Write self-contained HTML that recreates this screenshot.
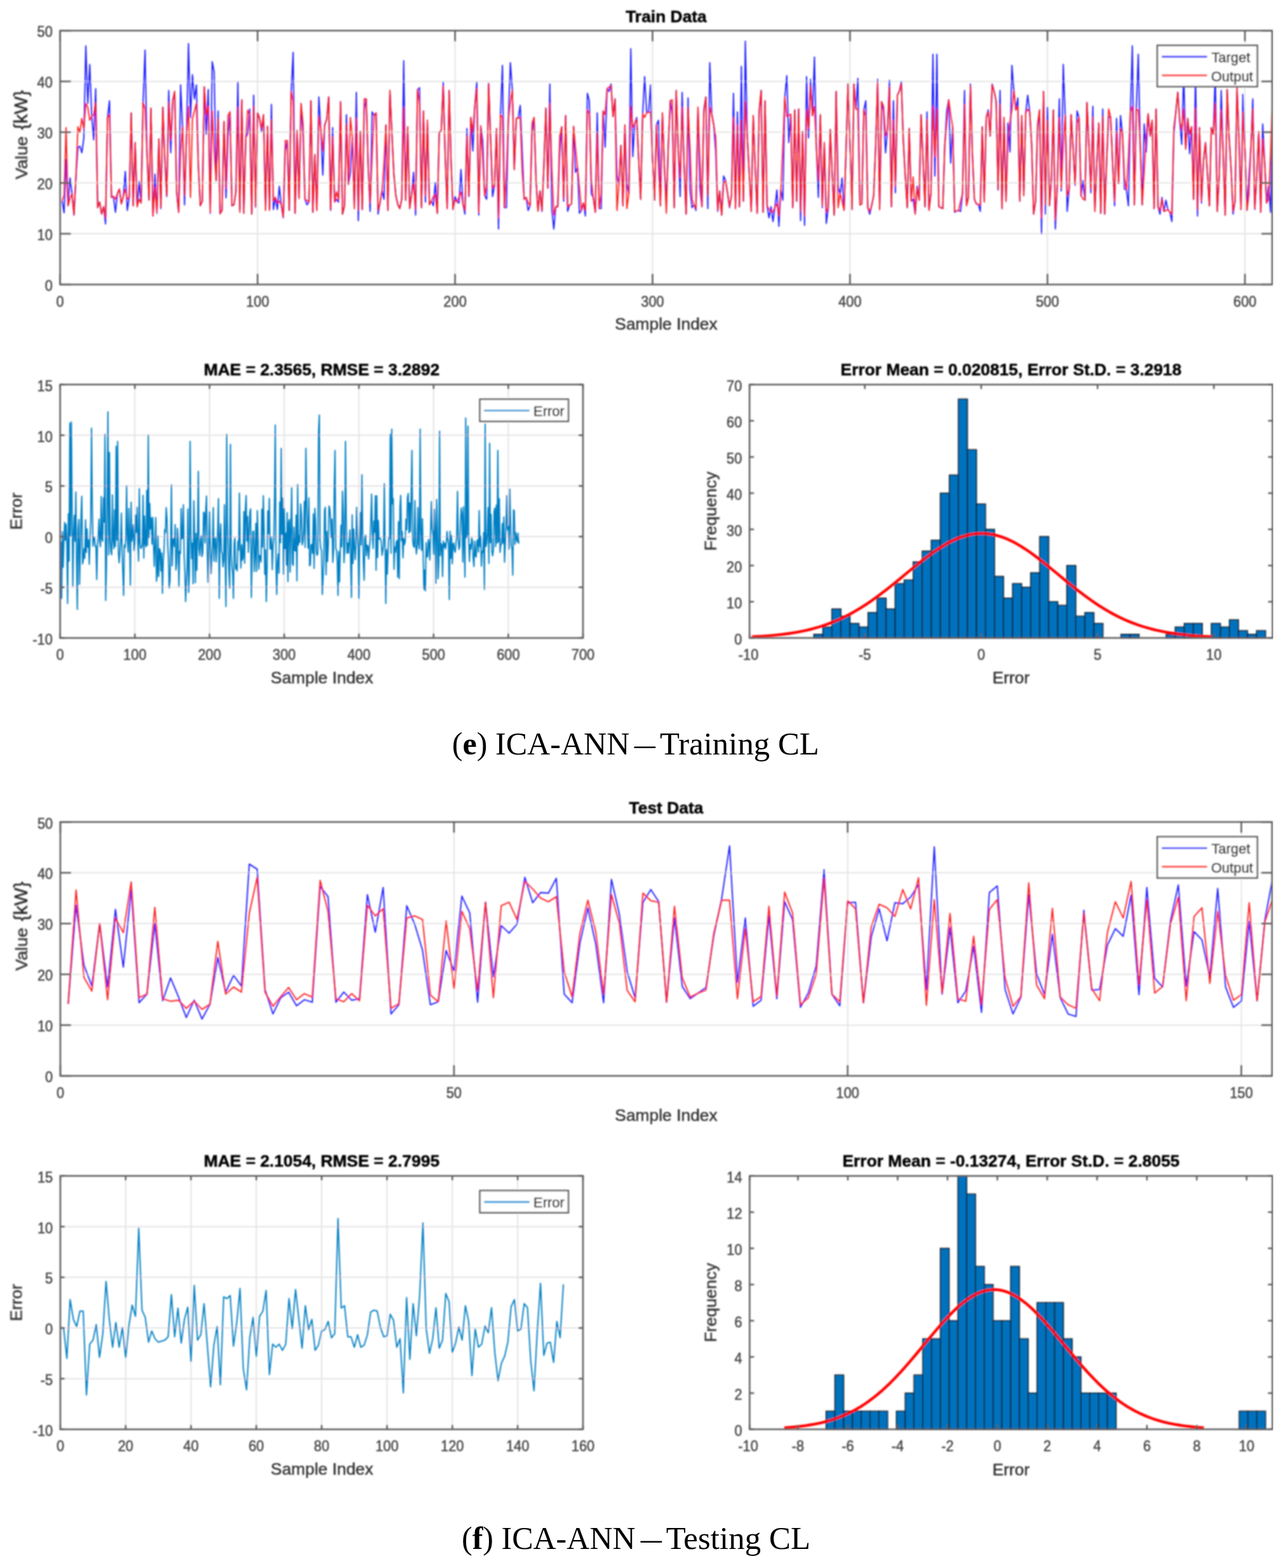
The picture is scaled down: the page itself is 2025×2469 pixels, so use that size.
<!DOCTYPE html>
<html><head><meta charset="utf-8"><title>ICA-ANN Training and Testing CL</title>
<style>html,body{margin:0;padding:0;background:#fff;}svg{display:block;}</style>
</head><body>
<svg width="2025" height="2469" viewBox="0 0 2025 2469">
<rect width="100%" height="100%" fill="#fff"/>
<defs><filter id="soft" x="0" y="0" width="100%" height="100%"><feGaussianBlur stdDeviation="0.8"/></filter></defs>
<g filter="url(#soft)">
<line x1="405.63" y1="48.2" x2="405.63" y2="448" stroke="#e4e4e4" stroke-width="2"/>
<line x1="716.56" y1="48.2" x2="716.56" y2="448" stroke="#e4e4e4" stroke-width="2"/>
<line x1="1027.5" y1="48.2" x2="1027.5" y2="448" stroke="#e4e4e4" stroke-width="2"/>
<line x1="1338.43" y1="48.2" x2="1338.43" y2="448" stroke="#e4e4e4" stroke-width="2"/>
<line x1="1649.36" y1="48.2" x2="1649.36" y2="448" stroke="#e4e4e4" stroke-width="2"/>
<line x1="1960.29" y1="48.2" x2="1960.29" y2="448" stroke="#e4e4e4" stroke-width="2"/>
<line x1="94.7" y1="368.04" x2="2003.2" y2="368.04" stroke="#e4e4e4" stroke-width="2"/>
<line x1="94.7" y1="288.08" x2="2003.2" y2="288.08" stroke="#e4e4e4" stroke-width="2"/>
<line x1="94.7" y1="208.12" x2="2003.2" y2="208.12" stroke="#e4e4e4" stroke-width="2"/>
<line x1="94.7" y1="128.16" x2="2003.2" y2="128.16" stroke="#e4e4e4" stroke-width="2"/>
<g clip-path="url(#clipAtrain)">
<polyline points="97.81,316.28 100.92,334.97 104.03,250.83 107.14,324 110.25,280.1 113.36,304.97 116.47,338.63 119.57,278.7 122.68,231.8 125.79,230.34 128.9,240.58 132.01,217.17 135.12,72.29 138.23,163.02 141.34,101.56 144.45,183.28 147.56,220.1 150.67,139.61 153.78,326.92 156.89,318.14 160,337.17 163.11,325.46 166.21,352.53 169.32,184.97 172.43,158.63 175.54,310.83 178.65,309.36 181.76,334.24 184.87,304.86 187.98,297.66 191.09,321.07 194.2,309.35 197.31,269.85 200.42,331.31 203.53,310.83 206.64,177.66 209.74,324 212.85,224.49 215.96,325.46 219.07,285.95 222.18,319.61 225.29,161.56 228.4,78.88 231.51,241.96 234.62,313.75 237.73,170.34 240.84,340.09 243.95,274.24 247.06,335.7 250.17,218.63 253.28,328.39 256.38,168.88 259.49,250.51 262.6,309.36 265.71,142.54 268.82,240.58 271.93,158.63 275.04,144 278.15,302.05 281.26,334.24 284.37,133.76 287.48,199.61 290.59,322.53 293.7,212.76 296.81,68.63 299.92,184.97 303.02,117.66 306.13,155.71 309.24,133.76 312.35,261.65 315.46,324 318.57,316.68 321.68,136.68 324.79,211.32 327.9,141.07 331.01,335.7 334.12,97.17 337.23,113.27 340.34,284.49 343.45,174.73 346.55,336.44 349.66,331.31 352.77,191.56 355.88,311.56 358.99,215.71 362.1,176.19 365.21,324 368.32,322.53 371.43,302.05 374.54,129.37 377.65,329.85 380.76,157.17 383.87,335.7 386.98,217.17 390.09,209.85 393.19,171.8 396.3,337.17 399.41,149.85 402.52,326.19 405.63,177.66 408.74,186.44 411.85,206.93 414.96,180.58 418.07,329.85 421.18,198.88 424.29,329.85 427.4,164.49 430.51,329.85 433.62,310.83 436.73,329.85 439.83,293.27 442.94,322.53 446.05,343.02 449.16,237.66 452.27,221.56 455.38,331.31 458.49,144 461.6,82.54 464.71,335.7 467.82,205.46 470.93,312.29 474.04,163.02 477.15,214.24 480.26,313.75 483.36,322.53 486.47,318.14 489.58,158.63 492.69,334.24 495.8,243.51 498.91,331.31 502.02,152.78 505.13,202.54 508.24,275.71 511.35,196.68 514.46,187.9 517.57,152.78 520.68,331.31 523.79,201.07 526.9,318.14 530,313.75 533.11,318.14 536.22,160.1 539.33,337.17 542.44,324 545.55,180.58 548.66,290.34 551.77,271.32 554.88,217.17 557.99,328.39 561.1,145.46 564.21,347.41 567.32,206.93 570.43,329.85 573.54,173.27 576.64,155.71 579.75,260.83 582.86,332.78 585.97,176.19 589.08,182.05 592.19,177.66 595.3,337.17 598.41,319.1 601.52,300.58 604.63,313.75 607.74,196.68 610.85,331.31 613.96,142.54 617.07,209.54 620.17,273.39 623.28,307.9 626.39,322.01 629.5,328.39 632.61,313.75 635.72,95.71 638.83,315.22 641.94,199.61 645.05,328.39 648.16,306.2 651.27,271.32 654.38,338.63 657.49,141.07 660.6,138.15 663.71,326.92 666.81,174.73 669.92,318.14 673.03,189.37 676.14,321.07 679.25,316.68 682.36,324 685.47,287.41 688.58,335.7 691.69,208.39 694.8,205.46 697.91,129.37 701.02,245.42 704.13,328.39 707.24,142.54 710.35,256.71 713.45,329.85 716.56,309.36 719.67,318.14 722.78,319.61 725.89,266.93 729,321.66 732.11,337.17 735.22,202.54 738.33,309.36 741.44,184.97 744.55,237.66 747.66,166.74 750.77,129.37 753.88,338.63 756.98,198.15 760.09,221.56 763.2,307.9 766.31,313.75 769.42,130.83 772.53,220.11 775.64,309.36 778.75,291.8 781.86,202.54 784.97,360.58 788.08,180.58 791.19,103.02 794.3,326.92 797.41,326.92 800.52,187.9 803.62,98.63 806.73,141.07 809.84,266.81 812.95,186.44 816.06,185.75 819.17,165.95 822.28,237.66 825.39,313.75 828.5,310.83 831.61,331.31 834.72,324 837.83,208.39 840.94,184.97 844.05,283.59 847.16,331.31 850.26,300.58 853.37,332.78 856.48,259.96 859.59,170.34 862.7,296.19 865.81,132.29 868.92,329.85 872.03,360.58 875.14,325.46 878.25,325.46 881.36,239.12 884.47,199.61 887.58,316.68 890.69,182.05 893.79,332.78 896.9,323.03 900.01,321.07 903.12,198.88 906.23,271.32 909.34,264.09 912.45,335.7 915.56,331.31 918.67,319.61 921.78,340.09 924.89,146.93 928,158.63 931.11,304.97 934.22,311.14 937.33,334.24 940.43,177.66 943.54,328.39 946.65,328.39 949.76,174.73 952.87,231.8 955.98,139.61 959.09,144 962.2,132.29 965.31,183.51 968.42,155.71 971.53,275.71 974.64,290.34 977.75,228.88 980.86,324 983.97,196.68 987.07,290.34 990.18,304.97 993.29,76.68 996.4,246.44 999.51,194.43 1002.62,184.97 1005.73,251.25 1008.84,313.75 1011.95,179.12 1015.06,120.59 1018.17,176.19 1021.28,176.88 1024.39,133.76 1027.5,250.25 1030.61,315.22 1033.71,196.68 1036.82,189.37 1039.93,324 1043.04,177.66 1046.15,260.99 1049.26,319.61 1052.37,228.46 1055.48,158.63 1058.59,180.58 1061.7,326.92 1064.81,142.54 1067.92,233.65 1071.03,309.36 1074.14,145.46 1077.24,260.98 1080.35,337.17 1083.46,154.24 1086.57,299.12 1089.68,326.92 1092.79,322.57 1095.9,331.31 1099.01,168.88 1102.12,296.19 1105.23,325.46 1108.34,171.8 1111.45,152.78 1114.56,328.39 1117.67,98.63 1120.78,179.96 1123.88,196.54 1126.99,239.12 1130.1,332.78 1133.21,300.58 1136.32,338.63 1139.43,277.17 1142.54,284.49 1145.65,304.05 1148.76,326.92 1151.87,307.9 1154.98,146.93 1158.09,328.39 1161.2,176.19 1164.31,325.46 1167.42,104.49 1170.52,316.68 1173.63,64.98 1176.74,217.11 1179.85,273.52 1182.96,332.78 1186.07,182.05 1189.18,264.28 1192.29,335.7 1195.4,179.12 1198.51,142.54 1201.62,334.24 1204.73,158.63 1207.84,324 1210.95,343.02 1214.05,325.46 1217.16,348.88 1220.27,325.82 1223.38,299.12 1226.49,356.19 1229.6,299.12 1232.71,315.22 1235.82,152.78 1238.93,119.12 1242.04,224.49 1245.15,179.85 1248.26,326.92 1251.37,173.27 1254.48,316.68 1257.59,171.8 1260.69,347.41 1263.8,206.93 1266.91,354.73 1270.02,120.59 1273.13,217.17 1276.24,124.98 1279.35,182.05 1282.46,89.85 1285.57,233.44 1288.68,310.83 1291.79,180.58 1294.9,326.92 1298.01,224.49 1301.12,351.8 1304.23,326.92 1307.33,204 1310.44,275.71 1313.55,338.63 1316.66,144 1319.77,294.73 1322.88,304.97 1325.99,280.1 1329.1,331.31 1332.21,236.35 1335.32,132.29 1338.43,226.94 1341.54,329.85 1344.65,132.29 1347.76,171.8 1350.86,123.51 1353.97,322.53 1357.08,321.07 1360.19,173.27 1363.3,158.63 1366.41,326.92 1369.52,337.17 1372.63,323.35 1375.74,307.9 1378.85,229.2 1381.96,124.98 1385.07,329.85 1388.18,160.1 1391.29,176.19 1394.4,240.58 1397.5,204 1400.61,126.44 1403.72,325.46 1406.83,158.63 1409.94,303.51 1413.05,149.85 1416.16,143.6 1419.27,128.63 1422.38,221.56 1425.49,277.35 1428.6,326.92 1431.71,202.54 1434.82,316.68 1437.93,313.75 1441.04,337.17 1444.14,293.27 1447.25,315.22 1450.36,180.58 1453.47,252.24 1456.58,325.46 1459.69,176.19 1462.8,329.85 1465.91,304.97 1469.02,85.46 1472.13,277.17 1475.24,85.46 1478.35,325.46 1481.46,326.99 1484.57,328.39 1487.67,228.88 1490.78,174.73 1493.89,157.17 1497,256.68 1500.11,199.61 1503.22,334.24 1506.33,332.1 1509.44,331.31 1512.55,332.78 1515.66,304.97 1518.77,142.54 1521.88,322.53 1524.99,310.83 1528.1,132.29 1531.21,243.67 1534.31,313.75 1537.42,321.07 1540.53,321.81 1543.64,332.78 1546.75,199.61 1549.86,313.75 1552.97,184.97 1556.08,173.27 1559.19,214.24 1562.3,132.29 1565.41,144 1568.52,158.63 1571.63,299.12 1574.74,142.54 1577.85,328.39 1580.95,184.97 1584.06,316.68 1587.17,193.76 1590.28,239.12 1593.39,103.02 1596.5,142.54 1599.61,173.27 1602.72,154.24 1605.83,316.68 1608.94,182.05 1612.05,307.9 1615.16,177.66 1618.27,149.85 1621.38,176.19 1624.48,227.33 1627.59,337.17 1630.7,316.68 1633.81,202.54 1636.92,173.27 1640.03,367.9 1643.14,144 1646.25,337.17 1649.36,168.88 1652.47,324 1655.58,284.49 1658.69,173.27 1661.8,360.58 1664.91,290.34 1668.02,155.71 1671.12,300.58 1674.23,101.56 1677.34,182.05 1680.45,332.78 1683.56,297.66 1686.67,180.58 1689.78,234.16 1692.89,291.8 1696,174.73 1699.11,184.97 1702.22,307.9 1705.33,284.49 1708.44,315.22 1711.55,161.56 1714.66,227.58 1717.76,303.51 1720.87,167.41 1723.98,332.78 1727.09,256.58 1730.2,193.76 1733.31,335.7 1736.42,171.8 1739.53,337.17 1742.64,252.26 1745.75,183.51 1748.86,184.97 1751.97,256.81 1755.08,324 1758.19,186.44 1761.29,288.88 1764.4,182.05 1767.51,209.85 1770.62,297.66 1773.73,299.12 1776.84,324 1779.95,176.19 1783.06,72.29 1786.17,322.53 1789.28,171.8 1792.39,85.46 1795.5,228.97 1798.61,322.53 1801.72,195.22 1804.83,239.12 1807.93,179.12 1811.04,214.24 1814.15,189.37 1817.26,328.39 1820.37,171.8 1823.48,325.46 1826.59,337.17 1829.7,310.83 1832.81,332.78 1835.92,315.22 1839.03,329.85 1842.14,334.02 1845.25,348.88 1848.36,211.32 1851.47,177.18 1854.57,145.46 1857.68,190.83 1860.79,227.41 1863.9,114.73 1867.01,234.73 1870.12,186.44 1873.23,242.05 1876.34,199.61 1879.45,313.75 1882.56,114.73 1885.67,340.09 1888.78,201.07 1891.89,319.61 1895,253.75 1898.11,224.49 1901.21,272.73 1904.32,324 1907.43,201.07 1910.54,211.32 1913.65,114.73 1916.76,332.78 1919.87,275.4 1922.98,142.54 1926.09,242.97 1929.2,338.63 1932.31,141.07 1935.42,217.17 1938.53,265.74 1941.64,337.17 1944.74,316.68 1947.85,138.15 1950.96,218.44 1954.07,329.85 1957.18,148.39 1960.29,236.16 1963.4,331.31 1966.51,280.1 1969.62,234.8 1972.73,155.71 1975.84,329.85 1978.95,276.23 1982.06,206.93 1985.17,334.24 1988.28,195.22 1991.38,255.64 1994.49,319.61 1997.6,293.27 2000.71,334.24 2003.82,144" fill="none" stroke="#1a1aff" stroke-width="1.9" stroke-linejoin="round" stroke-opacity="1.0"/>
<polyline points="97.81,316.28 100.92,307.9 104.03,201.07 107.14,324 110.25,312.52 113.36,304.97 116.47,337.9 119.57,278.7 122.68,199.61 125.79,208.39 128.9,186.44 132.01,202.54 135.12,163.02 138.23,168.88 141.34,189.37 144.45,183.28 147.56,180.58 150.67,161.56 153.78,326.92 156.89,318.14 160,337.17 163.11,325.46 166.21,343.02 169.32,184.97 172.43,180.58 175.54,310.83 178.65,309.36 181.76,313.75 184.87,304.86 187.98,297.66 191.09,321.07 194.2,309.35 197.31,297.66 200.42,313.75 203.53,310.83 206.64,177.66 209.74,324 212.85,224.49 215.96,325.46 219.07,313.75 222.18,319.61 225.29,161.56 228.4,170.34 231.51,241.96 234.62,315.22 237.73,170.34 240.84,340.09 243.95,294.73 247.06,334.24 250.17,218.63 253.28,326.92 256.38,168.88 259.49,250.51 262.6,307.9 265.71,161.56 268.82,220.1 271.93,158.63 275.04,144 278.15,302.05 281.26,334.24 284.37,238.72 287.48,199.61 290.59,307.9 293.7,212.76 296.81,167.41 299.92,310.83 303.02,186.44 306.13,175.04 309.24,163.02 312.35,261.65 315.46,324 318.57,316.68 321.68,136.68 324.79,180.58 327.9,167.41 331.01,334.24 334.12,174.73 337.23,236.99 340.34,284.49 343.45,186.44 346.55,336.44 349.66,331.31 352.77,191.56 355.88,296.19 358.99,182.05 362.1,176.19 365.21,324 368.32,322.53 371.43,302.05 374.54,168.88 377.65,334.24 380.76,157.17 383.87,335.7 386.98,217.17 390.09,173.27 393.19,180.58 396.3,337.17 399.41,167.41 402.52,325.46 405.63,177.66 408.74,186.44 411.85,202.54 414.96,180.58 418.07,331.31 421.18,198.88 424.29,331.31 427.4,188.63 430.51,316.68 433.62,310.83 436.73,319.61 439.83,316.68 442.94,322.53 446.05,341.56 449.16,221.56 452.27,221.56 455.38,331.31 458.49,144 461.6,158.63 464.71,335.7 467.82,205.46 470.93,312.29 474.04,163.02 477.15,193.76 480.26,313.75 483.36,315.7 486.47,318.14 489.58,158.63 492.69,334.24 495.8,243.51 498.91,331.31 502.02,183.51 505.13,202.54 508.24,237.66 511.35,196.68 514.46,187.9 517.57,152.78 520.68,329.85 523.79,215.71 526.9,318.14 530,302.05 533.11,315.22 536.22,160.1 539.33,337.17 542.44,324 545.55,195.22 548.66,290.34 551.77,184.97 554.88,217.17 557.99,328.39 561.1,186.44 564.21,331.31 567.32,206.93 570.43,329.85 573.54,155.71 576.64,155.71 579.75,260.83 582.86,319.61 585.97,244.77 589.08,182.05 592.19,177.66 595.3,331.31 598.41,319.1 601.52,300.58 604.63,257.84 607.74,196.68 610.85,331.31 613.96,142.54 617.07,209.54 620.17,273.39 623.28,307.9 626.39,322.01 629.5,328.39 632.61,313.75 635.72,168.88 638.83,315.22 641.94,199.61 645.05,328.39 648.16,306.2 651.27,288.88 654.38,329.85 657.49,141.07 660.6,161.56 663.71,326.92 666.81,174.73 669.92,307.9 673.03,189.37 676.14,322.53 679.25,316.68 682.36,309.87 685.47,306.44 688.58,335.7 691.69,208.39 694.8,205.46 697.91,135.22 701.02,245.42 704.13,328.39 707.24,142.54 710.35,256.71 713.45,329.85 716.56,315.22 719.67,318.14 722.78,310.46 725.89,302.05 729,321.66 732.11,331.31 735.22,214.24 738.33,307.9 741.44,184.97 744.55,208.39 747.66,166.74 750.77,139.61 753.88,334.24 756.98,198.15 760.09,249.97 763.2,307.9 766.31,293.27 769.42,132.29 772.53,220.11 775.64,296.19 778.75,291.8 781.86,202.54 784.97,343.02 788.08,180.58 791.19,184.97 794.3,326.92 797.41,271.3 800.52,187.9 803.62,160.06 806.73,142.54 809.84,266.81 812.95,186.44 816.06,185.75 819.17,184.97 822.28,269.96 825.39,313.75 828.5,310.83 831.61,319.14 834.72,324 837.83,193.76 840.94,184.97 844.05,283.59 847.16,332.78 850.26,300.58 853.37,331.31 856.48,259.96 859.59,170.34 862.7,296.19 865.81,163.02 868.92,265.07 872.03,338.63 875.14,325.46 878.25,325.46 881.36,214.24 884.47,199.61 887.58,312.29 890.69,182.05 893.79,325.46 896.9,323.03 900.01,321.07 903.12,198.88 906.23,232.84 909.34,264.09 912.45,295.34 915.56,331.31 918.67,319.61 921.78,331.31 924.89,173.27 928,179.12 931.11,283.02 934.22,311.14 937.33,334.24 940.43,208.39 943.54,328.39 946.65,304.97 949.76,174.73 952.87,180.58 955.98,139.61 959.09,136.96 962.2,135.22 965.31,183.51 968.42,155.71 971.53,331.31 974.64,290.34 977.75,228.88 980.86,324 983.97,196.68 987.07,328.39 990.18,304.97 993.29,167.41 996.4,201.07 999.51,194.43 1002.62,187.9 1005.73,251.25 1008.84,313.75 1011.95,179.12 1015.06,184.97 1018.17,177.66 1021.28,176.88 1024.39,176.19 1027.5,250.25 1030.61,315.22 1033.71,196.68 1036.82,260.41 1039.93,324 1043.04,177.66 1046.15,260.99 1049.26,335.7 1052.37,228.46 1055.48,158.63 1058.59,157.17 1061.7,326.92 1064.81,142.54 1067.92,233.65 1071.03,280.1 1074.14,168.88 1077.24,260.98 1080.35,337.17 1083.46,168.88 1086.57,235.2 1089.68,313.75 1092.79,322.57 1095.9,328.39 1099.01,168.88 1102.12,254.15 1105.23,325.46 1108.34,176.19 1111.45,152.78 1114.56,307.9 1117.67,168.88 1120.78,179.96 1123.88,196.54 1126.99,215.71 1130.1,331.31 1133.21,300.58 1136.32,338.63 1139.43,288.88 1142.54,284.49 1145.65,304.05 1148.76,325.46 1151.87,307.9 1154.98,184.97 1158.09,328.39 1161.2,196.68 1164.31,325.46 1167.42,189.37 1170.52,316.68 1173.63,160.1 1176.74,217.11 1179.85,273.52 1182.96,332.78 1186.07,182.05 1189.18,264.28 1192.29,335.7 1195.4,173.27 1198.51,142.54 1201.62,334.24 1204.73,158.63 1207.84,324 1210.95,329.85 1214.05,332.52 1217.16,334.24 1220.27,325.82 1223.38,321.07 1226.49,340.09 1229.6,299.12 1232.71,230.64 1235.82,152.78 1238.93,183.51 1242.04,181.46 1245.15,179.85 1248.26,326.92 1251.37,173.27 1254.48,316.68 1257.59,171.8 1260.69,332.78 1263.8,206.93 1266.91,340.09 1270.02,173.27 1273.13,202.54 1276.24,135.22 1279.35,182.05 1282.46,167.41 1285.57,233.44 1288.68,284.49 1291.79,180.58 1294.9,324 1298.01,224.49 1301.12,334.24 1304.23,326.92 1307.33,204 1310.44,275.71 1313.55,338.63 1316.66,144 1319.77,326.92 1322.88,304.97 1325.99,316.68 1329.1,331.31 1332.21,236.35 1335.32,132.29 1338.43,226.94 1341.54,329.85 1344.65,132.29 1347.76,171.8 1350.86,171.8 1353.97,322.53 1357.08,321.07 1360.19,173.27 1363.3,183.51 1366.41,326.92 1369.52,332.78 1372.63,323.35 1375.74,307.9 1378.85,229.2 1381.96,129.37 1385.07,329.85 1388.18,160.1 1391.29,167.41 1394.4,214.24 1397.5,204 1400.61,136.68 1403.72,325.46 1406.83,189.37 1409.94,293.27 1413.05,149.85 1416.16,143.6 1419.27,132.29 1422.38,221.56 1425.49,277.35 1428.6,326.92 1431.71,202.54 1434.82,316.68 1437.93,278.63 1441.04,337.17 1444.14,296.19 1447.25,315.22 1450.36,180.58 1453.47,252.24 1456.58,325.46 1459.69,187.9 1462.8,331.31 1465.91,304.97 1469.02,167.41 1472.13,246.44 1475.24,171.8 1478.35,325.46 1481.46,326.99 1484.57,328.39 1487.67,228.88 1490.78,193.58 1493.89,157.17 1497,180.96 1500.11,199.61 1503.22,332.78 1506.33,332.1 1509.44,331.31 1512.55,317.44 1515.66,304.97 1518.77,164.49 1521.88,324 1524.99,310.83 1528.1,135.22 1531.21,243.67 1534.31,313.75 1537.42,321.07 1540.53,321.81 1543.64,322.53 1546.75,199.61 1549.86,318.14 1552.97,184.97 1556.08,176.19 1559.19,214.24 1562.3,133.76 1565.41,144 1568.52,158.63 1571.63,297.66 1574.74,164.49 1577.85,328.39 1580.95,184.97 1584.06,316.68 1587.17,220.1 1590.28,192.29 1593.39,172.74 1596.5,142.54 1599.61,173.27 1602.72,167.41 1605.83,316.68 1608.94,182.05 1612.05,307.9 1615.16,177.66 1618.27,171.8 1621.38,176.19 1624.48,227.33 1627.59,337.17 1630.7,316.68 1633.81,195.22 1636.92,173.27 1640.03,343.02 1643.14,144 1646.25,322.53 1649.36,189.37 1652.47,324 1655.58,280.1 1658.69,173.27 1661.8,345.95 1664.91,290.34 1668.02,184.97 1671.12,296.19 1674.23,228.02 1677.34,182.05 1680.45,307.9 1683.56,297.66 1686.67,180.58 1689.78,234.16 1692.89,290.34 1696,193.76 1699.11,184.97 1702.22,307.9 1705.33,313.07 1708.44,315.22 1711.55,161.56 1714.66,227.58 1717.76,297.66 1720.87,184.97 1723.98,332.78 1727.09,256.58 1730.2,193.76 1733.31,335.7 1736.42,183.51 1739.53,337.17 1742.64,252.26 1745.75,171.8 1748.86,184.97 1751.97,256.81 1755.08,316.68 1758.19,206.93 1761.29,288.88 1764.4,202.54 1767.51,209.85 1770.62,279.77 1773.73,299.12 1776.84,247.87 1779.95,176.19 1783.06,167.41 1786.17,322.53 1789.28,171.8 1792.39,173.27 1795.5,228.97 1798.61,322.53 1801.72,269.43 1804.83,215.71 1807.93,179.12 1811.04,214.24 1814.15,189.37 1817.26,328.39 1820.37,171.8 1823.48,325.46 1826.59,331.31 1829.7,313.75 1832.81,332.78 1835.92,331.49 1839.03,329.85 1842.14,334.02 1845.25,337.17 1848.36,201.07 1851.47,177.18 1854.57,145.46 1857.68,190.83 1860.79,204 1863.9,171.8 1867.01,234.73 1870.12,186.44 1873.23,211.32 1876.34,199.61 1879.45,313.75 1882.56,170.34 1885.67,329.85 1888.78,201.07 1891.89,316.68 1895,253.75 1898.11,224.49 1901.21,272.73 1904.32,324 1907.43,201.07 1910.54,211.32 1913.65,163.02 1916.76,332.78 1919.87,275.4 1922.98,173.27 1926.09,242.97 1929.2,338.63 1932.31,141.07 1935.42,217.17 1938.53,265.74 1941.64,332.78 1944.74,316.68 1947.85,138.15 1950.96,218.44 1954.07,329.85 1957.18,176.19 1960.29,236.16 1963.4,331.31 1966.51,307.9 1969.62,234.8 1972.73,171.8 1975.84,328.39 1978.95,276.23 1982.06,206.93 1985.17,334.24 1988.28,218.63 1991.38,255.64 1994.49,319.61 1997.6,313.75 2000.71,243.81 2003.82,144" fill="none" stroke="#ff1a1a" stroke-width="1.9" stroke-linejoin="round" stroke-opacity="1.0"/>
</g>
<clipPath id="clipAtrain"><rect x="94.7" y="48.2" width="1908.5" height="399.8"/></clipPath>
<line x1="94.7" y1="448" x2="94.7" y2="431" stroke="#5c5c5c" stroke-width="2.5"/>
<line x1="94.7" y1="48.2" x2="94.7" y2="65.2" stroke="#5c5c5c" stroke-width="2.5"/>
<line x1="405.63" y1="448" x2="405.63" y2="431" stroke="#5c5c5c" stroke-width="2.5"/>
<line x1="405.63" y1="48.2" x2="405.63" y2="65.2" stroke="#5c5c5c" stroke-width="2.5"/>
<line x1="716.56" y1="448" x2="716.56" y2="431" stroke="#5c5c5c" stroke-width="2.5"/>
<line x1="716.56" y1="48.2" x2="716.56" y2="65.2" stroke="#5c5c5c" stroke-width="2.5"/>
<line x1="1027.5" y1="448" x2="1027.5" y2="431" stroke="#5c5c5c" stroke-width="2.5"/>
<line x1="1027.5" y1="48.2" x2="1027.5" y2="65.2" stroke="#5c5c5c" stroke-width="2.5"/>
<line x1="1338.43" y1="448" x2="1338.43" y2="431" stroke="#5c5c5c" stroke-width="2.5"/>
<line x1="1338.43" y1="48.2" x2="1338.43" y2="65.2" stroke="#5c5c5c" stroke-width="2.5"/>
<line x1="1649.36" y1="448" x2="1649.36" y2="431" stroke="#5c5c5c" stroke-width="2.5"/>
<line x1="1649.36" y1="48.2" x2="1649.36" y2="65.2" stroke="#5c5c5c" stroke-width="2.5"/>
<line x1="1960.29" y1="448" x2="1960.29" y2="431" stroke="#5c5c5c" stroke-width="2.5"/>
<line x1="1960.29" y1="48.2" x2="1960.29" y2="65.2" stroke="#5c5c5c" stroke-width="2.5"/>
<line x1="94.7" y1="448" x2="111.7" y2="448" stroke="#5c5c5c" stroke-width="2.5"/>
<line x1="2003.2" y1="448" x2="1986.2" y2="448" stroke="#5c5c5c" stroke-width="2.5"/>
<line x1="94.7" y1="368.04" x2="111.7" y2="368.04" stroke="#5c5c5c" stroke-width="2.5"/>
<line x1="2003.2" y1="368.04" x2="1986.2" y2="368.04" stroke="#5c5c5c" stroke-width="2.5"/>
<line x1="94.7" y1="288.08" x2="111.7" y2="288.08" stroke="#5c5c5c" stroke-width="2.5"/>
<line x1="2003.2" y1="288.08" x2="1986.2" y2="288.08" stroke="#5c5c5c" stroke-width="2.5"/>
<line x1="94.7" y1="208.12" x2="111.7" y2="208.12" stroke="#5c5c5c" stroke-width="2.5"/>
<line x1="2003.2" y1="208.12" x2="1986.2" y2="208.12" stroke="#5c5c5c" stroke-width="2.5"/>
<line x1="94.7" y1="128.16" x2="111.7" y2="128.16" stroke="#5c5c5c" stroke-width="2.5"/>
<line x1="2003.2" y1="128.16" x2="1986.2" y2="128.16" stroke="#5c5c5c" stroke-width="2.5"/>
<line x1="94.7" y1="48.2" x2="111.7" y2="48.2" stroke="#5c5c5c" stroke-width="2.5"/>
<line x1="2003.2" y1="48.2" x2="1986.2" y2="48.2" stroke="#5c5c5c" stroke-width="2.5"/>
<rect x="94.7" y="48.2" width="1908.5" height="399.8" fill="none" stroke="#5c5c5c" stroke-width="2.5"/>
<text transform="translate(94.7,482.75) scale(0.9300,1)" font-size="23.5" text-anchor="middle" font-weight="normal" fill="#444" stroke="#444" stroke-width="0.5" font-family="'Liberation Sans', Arial, Helvetica, sans-serif">0</text>
<text transform="translate(405.63,482.75) scale(0.9300,1)" font-size="23.5" text-anchor="middle" font-weight="normal" fill="#444" stroke="#444" stroke-width="0.5" font-family="'Liberation Sans', Arial, Helvetica, sans-serif">100</text>
<text transform="translate(716.56,482.75) scale(0.9300,1)" font-size="23.5" text-anchor="middle" font-weight="normal" fill="#444" stroke="#444" stroke-width="0.5" font-family="'Liberation Sans', Arial, Helvetica, sans-serif">200</text>
<text transform="translate(1027.5,482.75) scale(0.9300,1)" font-size="23.5" text-anchor="middle" font-weight="normal" fill="#444" stroke="#444" stroke-width="0.5" font-family="'Liberation Sans', Arial, Helvetica, sans-serif">300</text>
<text transform="translate(1338.43,482.75) scale(0.9300,1)" font-size="23.5" text-anchor="middle" font-weight="normal" fill="#444" stroke="#444" stroke-width="0.5" font-family="'Liberation Sans', Arial, Helvetica, sans-serif">400</text>
<text transform="translate(1649.36,482.75) scale(0.9300,1)" font-size="23.5" text-anchor="middle" font-weight="normal" fill="#444" stroke="#444" stroke-width="0.5" font-family="'Liberation Sans', Arial, Helvetica, sans-serif">500</text>
<text transform="translate(1960.29,482.75) scale(0.9300,1)" font-size="23.5" text-anchor="middle" font-weight="normal" fill="#444" stroke="#444" stroke-width="0.5" font-family="'Liberation Sans', Arial, Helvetica, sans-serif">600</text>
<text transform="translate(82.9,458.23) scale(0.9300,1)" font-size="23.5" text-anchor="end" font-weight="normal" fill="#444" stroke="#444" stroke-width="0.5" font-family="'Liberation Sans', Arial, Helvetica, sans-serif">0</text>
<text transform="translate(82.9,378.26) scale(0.9300,1)" font-size="23.5" text-anchor="end" font-weight="normal" fill="#444" stroke="#444" stroke-width="0.5" font-family="'Liberation Sans', Arial, Helvetica, sans-serif">10</text>
<text transform="translate(82.9,298.31) scale(0.9300,1)" font-size="23.5" text-anchor="end" font-weight="normal" fill="#444" stroke="#444" stroke-width="0.5" font-family="'Liberation Sans', Arial, Helvetica, sans-serif">20</text>
<text transform="translate(82.9,218.34) scale(0.9300,1)" font-size="23.5" text-anchor="end" font-weight="normal" fill="#444" stroke="#444" stroke-width="0.5" font-family="'Liberation Sans', Arial, Helvetica, sans-serif">30</text>
<text transform="translate(82.9,138.38) scale(0.9300,1)" font-size="23.5" text-anchor="end" font-weight="normal" fill="#444" stroke="#444" stroke-width="0.5" font-family="'Liberation Sans', Arial, Helvetica, sans-serif">40</text>
<text transform="translate(82.9,58.42) scale(0.9300,1)" font-size="23.5" text-anchor="end" font-weight="normal" fill="#444" stroke="#444" stroke-width="0.5" font-family="'Liberation Sans', Arial, Helvetica, sans-serif">50</text>
<rect x="1822.3" y="71.5" width="157.6" height="64.8" fill="#fff" stroke="#5c5c5c" stroke-width="2.5"/>
<line x1="1829.5" y1="89.4" x2="1900.8" y2="89.4" stroke="#4545ff" stroke-width="3.2"/>
<line x1="1829.5" y1="118.6" x2="1900.8" y2="118.6" stroke="#ff4545" stroke-width="3.2"/>
<text transform="translate(1907.5,97.6)" font-size="22" text-anchor="start" font-weight="normal" fill="#222" stroke="#222" stroke-width="0.5" font-family="'Liberation Sans', Arial, Helvetica, sans-serif">Target</text>
<text transform="translate(1907,128.1)" font-size="22" text-anchor="start" font-weight="normal" fill="#222" stroke="#222" stroke-width="0.5" font-family="'Liberation Sans', Arial, Helvetica, sans-serif">Output</text>
<text transform="translate(1049,34.6)" font-size="26.4" text-anchor="middle" font-weight="bold" fill="#000" stroke="#000" stroke-width="0.5" font-family="'Liberation Sans', Arial, Helvetica, sans-serif">Train Data</text>
<text transform="translate(1049,519.2)" font-size="26.4" text-anchor="middle" font-weight="normal" fill="#333" stroke="#333" stroke-width="0.5" font-family="'Liberation Sans', Arial, Helvetica, sans-serif">Sample Index</text>
<text transform="translate(42.9,282.3) rotate(-90) scale(1.033,1)" font-size="26.4" fill="#333" stroke="#333" stroke-width="0.5" font-family="'Liberation Sans', Arial, Helvetica, sans-serif">Value <tspan font-size="28.7" fill="#222" dx="2.5">{kW}</tspan></text>
<line x1="212.31" y1="605.5" x2="212.31" y2="1004.6" stroke="#e4e4e4" stroke-width="2"/>
<line x1="329.93" y1="605.5" x2="329.93" y2="1004.6" stroke="#e4e4e4" stroke-width="2"/>
<line x1="447.54" y1="605.5" x2="447.54" y2="1004.6" stroke="#e4e4e4" stroke-width="2"/>
<line x1="565.16" y1="605.5" x2="565.16" y2="1004.6" stroke="#e4e4e4" stroke-width="2"/>
<line x1="682.77" y1="605.5" x2="682.77" y2="1004.6" stroke="#e4e4e4" stroke-width="2"/>
<line x1="800.39" y1="605.5" x2="800.39" y2="1004.6" stroke="#e4e4e4" stroke-width="2"/>
<line x1="94.7" y1="924.78" x2="918" y2="924.78" stroke="#e4e4e4" stroke-width="2"/>
<line x1="94.7" y1="844.96" x2="918" y2="844.96" stroke="#e4e4e4" stroke-width="2"/>
<line x1="94.7" y1="765.14" x2="918" y2="765.14" stroke="#e4e4e4" stroke-width="2"/>
<line x1="94.7" y1="685.32" x2="918" y2="685.32" stroke="#e4e4e4" stroke-width="2"/>
<polyline points="95.88,852.65 97.05,942.34 98.23,837.16 99.4,893.12 100.58,854.2 101.76,822.55 102.93,850.74 104.11,825.27 105.29,854.18 106.46,950.32 107.64,809.08 108.81,883.46 109.99,666.16 111.17,844.18 112.34,664.57 113.52,799.86 114.69,923.18 115.87,841.36 117.05,811.53 118.22,852.34 119.4,774.76 120.58,881.74 121.75,959.47 122.93,833.95 124.1,817.96 125.28,920.08 126.46,864.79 127.63,812.32 128.81,781.58 129.98,888.01 131.16,881.73 132.34,863.86 133.51,878.94 134.69,818.46 135.87,869.85 137.04,832.79 138.22,861.57 139.39,850.34 140.57,888.51 141.75,846.57 142.92,819.34 144.1,674.15 145.27,794.26 146.45,860.1 147.63,846.06 148.8,846.5 149.98,860.29 151.15,859.84 152.33,912.58 153.51,858.35 154.68,844.76 155.86,817.41 157.04,852.23 158.21,860.65 159.39,781.64 160.56,848.27 161.74,852.35 162.92,784.09 164.09,821.9 165.27,683.72 166.44,945.53 167.62,889.95 168.8,780.73 169.97,648.6 171.15,873.84 172.33,712.46 173.5,850.9 174.68,868.7 175.85,873.49 177.03,779.14 178.21,850.16 179.38,863.89 180.56,803.11 181.73,860.55 182.91,702.71 184.09,850.52 185.26,694.9 186.44,870.48 187.62,886.14 188.79,868.39 189.97,850.93 191.14,807.89 192.32,869.08 193.5,902.36 194.67,937.55 195.85,858.3 197.02,862.28 198.2,844.59 199.38,765.14 200.55,848.76 201.73,869.3 202.91,800.73 204.08,844.01 205.26,921.59 206.43,790.77 207.61,851.89 208.79,842.35 209.96,826.23 211.14,866.97 212.31,856.53 213.49,811.04 214.67,837.95 215.84,798.8 217.02,853.47 218.19,883.5 219.37,769.17 220.55,854.51 221.72,863.21 222.9,862.61 224.08,858.05 225.25,780.12 226.43,878.76 227.6,812.71 228.78,856.35 229.96,860.89 231.13,772.18 232.31,858.81 233.48,685.32 234.66,846.49 235.84,792.65 237.01,832.71 238.19,815.55 239.37,856.65 240.54,814.5 241.72,855.87 242.89,891.66 244.07,858.02 245.25,815.08 246.42,915.2 247.6,904.12 248.77,843.96 249.95,907.69 251.13,863.96 252.3,866.37 253.48,899.12 254.66,870.68 255.83,934.14 257.01,882.59 258.18,869.52 259.36,833.66 260.54,838.35 261.71,799.29 262.89,816.61 264.06,858.43 265.24,878.62 266.42,925.75 267.59,915.2 268.77,858.56 269.95,763.54 271.12,890.97 272.3,851.43 273.47,848.1 274.65,860.57 275.83,826.06 277,897.54 278.18,886.65 279.35,831.98 280.53,848.67 281.71,923.18 282.88,868.2 284.06,871.46 285.24,800.73 286.41,848.21 287.59,847.08 288.76,794.8 289.94,872.87 291.12,901.44 292.29,947.13 293.47,915.52 294.64,893.6 295.82,801.6 297,932.76 298.17,903.78 299.35,694.9 300.52,838.28 301.7,879.48 302.88,855.14 304.05,919.3 305.23,788.62 306.41,842.91 307.58,917.59 308.76,839.78 309.93,898.01 311.11,843.48 312.29,742.37 313.46,864.45 314.64,874.75 315.81,851.17 316.99,843.91 318.17,876.38 319.34,868.63 320.52,806.59 321.7,807.54 322.87,854.82 324.05,802.11 325.22,781.01 326.4,869.82 327.58,916.8 328.75,860.39 329.93,805.73 331.1,862.66 332.28,903.26 333.46,877.52 334.63,859.3 335.81,799.27 336.99,883.67 338.16,849.1 339.34,846.86 340.51,884.68 341.69,860.04 342.87,833.02 344.04,785.13 345.22,942.34 346.39,847.28 347.57,824.96 348.75,868.6 349.92,871.66 351.1,892.55 352.28,881.89 353.45,794.83 354.63,877.7 355.8,955.11 356.98,683.72 358.16,823.66 359.33,866.19 360.51,903.54 361.68,926.19 362.86,699.69 364.04,871.77 365.21,892.82 366.39,903.12 367.57,942.34 368.74,854.82 369.92,847.01 371.09,896.16 372.27,889.39 373.45,899.08 374.62,852.29 375.8,866.3 376.97,776.6 378.15,855.86 379.33,894.4 380.5,857.8 381.68,882.24 382.85,877.81 384.03,805.4 385.21,887.02 386.38,802.19 387.56,780.29 388.74,851.87 389.91,813.44 391.09,869.74 392.26,839.19 393.44,805.95 394.62,801.21 395.79,940.74 396.97,878.66 398.14,837.01 399.32,836.43 400.5,900.04 401.67,874.49 402.85,823.91 404.03,899.74 405.2,803.91 406.38,846.04 407.55,896.3 408.73,874.57 409.91,875.99 411.08,884.8 412.26,801.72 413.43,861.6 414.61,780.5 415.79,832.84 416.96,904.36 418.14,865.76 419.32,947.13 420.49,896.77 421.67,804.62 422.84,839.87 424.02,784.78 425.2,864.47 426.37,864.22 427.55,845.88 428.72,896.94 429.9,859.69 431.08,849.24 432.25,789.56 433.43,669.36 434.61,889.15 435.78,935.95 436.96,885.2 438.13,872.31 439.31,902.42 440.49,790.54 441.66,854.45 442.84,706.07 444.01,841.25 445.19,784.53 446.37,904.18 447.54,800.93 448.72,863.94 449.9,839.38 451.07,889.79 452.25,807.17 453.42,915.85 454.6,822.52 455.78,817.91 456.95,900.68 458.13,827.81 459.3,767.88 460.48,887.05 461.66,890.38 462.83,830.04 464.01,865.98 465.19,867.66 466.36,811.08 467.54,914.62 468.71,763.05 469.89,858.35 471.07,843.36 472.24,853.82 473.42,793.42 474.59,809.1 475.77,857.93 476.95,853.21 478.12,836.37 479.3,789.48 480.47,862.05 481.65,706.07 482.83,785.97 484,830 485.18,863.2 486.36,784.09 487.53,891.01 488.71,889.2 489.88,857.79 491.06,857.21 492.24,871.4 493.41,809.2 494.59,895.06 495.76,800.59 496.94,822.12 498.12,870.04 499.29,874.48 500.47,870.87 501.65,678.93 502.82,653.39 504,850.4 505.17,864.38 506.35,866.48 507.53,935.95 508.7,910.44 509.88,879.17 511.05,803.36 512.23,798.84 513.41,904.92 514.58,836.73 515.76,884.25 516.94,857.86 518.11,796.69 519.29,801.28 520.46,815.94 521.64,846.56 522.82,817.21 523.99,885.47 525.17,868.57 526.34,768.74 527.52,709.27 528.7,863.76 529.87,866.06 531.05,883.47 532.23,937.55 533.4,868.29 534.58,916.25 535.75,868.97 536.93,826.97 538.11,861.01 539.28,773.61 540.46,809.61 541.63,886.06 542.81,866.21 543.99,694.9 545.16,814.95 546.34,871.24 547.51,855.01 548.69,871.04 549.87,851.02 551.04,834.39 552.22,885.45 553.4,940.74 554.57,810.76 555.75,887.3 556.92,833.1 558.1,859.02 559.28,880.97 560.45,858.51 561.63,798.8 562.8,841.61 563.98,858.77 565.16,942.34 566.33,849.98 567.51,806.88 568.69,858.36 569.86,747.58 571.04,832.53 572.21,887.6 573.39,913.61 574.57,845.98 575.74,842.75 576.92,875.01 578.09,858.4 579.27,859.88 580.45,880.28 581.62,862.46 582.8,851.91 583.98,816.39 585.15,778.1 586.33,839.73 587.5,863.71 588.68,820.59 589.86,837.86 591.03,780.78 592.21,897.95 593.38,780.44 594.56,877.93 595.74,819.6 596.91,848.91 598.09,847.29 599.27,848.25 600.44,854.3 601.62,874.46 602.79,866.55 603.97,857.71 605.15,761.76 606.32,853.28 607.5,950.32 608.67,865.46 609.85,904 611.03,868.4 612.2,846.72 613.38,847.75 614.56,683.72 615.73,871.15 616.91,675.74 618.08,793.24 619.26,785.26 620.44,896.52 621.61,861.75 622.79,869.39 623.96,853.82 625.14,851.11 626.32,908.82 627.49,821.3 628.67,911.2 629.85,798.14 631.02,780.1 632.2,851.32 633.37,836.92 634.55,878.58 635.73,847.64 636.9,857.58 638.08,852.41 639.25,817.55 640.43,833.96 641.61,784.46 642.78,776.93 643.96,838.98 645.13,791.8 646.31,837.34 647.49,777.58 648.66,709.27 649.84,850.54 651.02,859.8 652.19,861.66 653.37,788.2 654.54,858.04 655.72,872.3 656.9,860.99 658.07,799.17 659.25,856.24 660.42,864.19 661.6,675.74 662.78,834.81 663.95,866.77 665.13,816.72 666.31,872.66 667.48,927.97 668.66,897.74 669.83,930.33 671.01,854.55 672.19,877.02 673.36,876.59 674.54,849.51 675.71,854.6 676.89,881.69 678.07,837.21 679.24,789.68 680.42,832.19 681.6,840.05 682.77,873.08 683.95,801.93 685.12,837.78 686.3,918.39 687.48,786.54 688.65,830.44 689.83,911.16 691,884.97 692.18,678.93 693.36,875.12 694.53,855.8 695.71,857.26 696.89,907.64 698.06,852.06 699.24,861.69 700.41,855.17 701.59,864.34 702.77,855.22 703.94,836.65 705.12,849.73 706.29,855.06 707.47,943.94 708.65,836.62 709.82,879.06 711,843.26 712.17,887.79 713.35,856.71 714.53,855.01 715.7,867.17 716.88,869.5 718.06,855.39 719.23,843.69 720.41,773.71 721.58,849.09 722.76,865.26 723.94,859.79 725.11,822.12 726.29,799.94 727.46,809.05 728.64,884.7 729.82,798.05 730.99,858.56 732.17,908.82 733.35,658.18 734.52,846.66 735.7,841.24 736.87,670.95 738.05,849.89 739.23,884.17 740.4,857.61 741.58,864.53 742.75,846.69 743.93,852.21 745.11,880.13 746.28,892.04 747.46,852.03 748.64,873.8 749.81,877.05 750.99,852.52 752.16,849.96 753.34,869.25 754.52,804.03 755.69,860.5 756.87,844.16 758.04,891.49 759.22,868.3 760.4,869.78 761.57,838.61 762.75,927.97 763.93,667.76 765.1,860.63 766.28,855.42 767.45,839.79 768.63,799.33 769.81,887.27 770.98,698.09 772.16,854.52 773.33,809.76 774.51,867.81 775.69,875.23 776.86,866.63 778.04,805.16 779.22,800.01 780.39,860.65 781.57,795.26 782.74,855.32 783.92,709.27 785.1,853.38 786.27,785.59 787.45,869.81 788.62,857.14 789.8,857.04 790.98,824.36 792.15,855.14 793.33,814 794.5,885.31 795.68,855.24 796.86,825.35 798.03,780.57 799.21,834.37 800.39,828.74 801.56,864.74 802.74,769.93 803.91,823.41 805.09,859.47 806.27,863.68 807.44,905.62 808.62,802.84 809.79,804.64 810.97,857.14 812.15,838.61 813.32,846.87 814.5,853.6 815.68,839.57 816.85,856.13" fill="none" stroke="#067fc3" stroke-width="2" stroke-linejoin="round"/>
<line x1="94.7" y1="1004.6" x2="94.7" y2="997.6" stroke="#5c5c5c" stroke-width="2.5"/>
<line x1="94.7" y1="605.5" x2="94.7" y2="612.5" stroke="#5c5c5c" stroke-width="2.5"/>
<line x1="212.31" y1="1004.6" x2="212.31" y2="997.6" stroke="#5c5c5c" stroke-width="2.5"/>
<line x1="212.31" y1="605.5" x2="212.31" y2="612.5" stroke="#5c5c5c" stroke-width="2.5"/>
<line x1="329.93" y1="1004.6" x2="329.93" y2="997.6" stroke="#5c5c5c" stroke-width="2.5"/>
<line x1="329.93" y1="605.5" x2="329.93" y2="612.5" stroke="#5c5c5c" stroke-width="2.5"/>
<line x1="447.54" y1="1004.6" x2="447.54" y2="997.6" stroke="#5c5c5c" stroke-width="2.5"/>
<line x1="447.54" y1="605.5" x2="447.54" y2="612.5" stroke="#5c5c5c" stroke-width="2.5"/>
<line x1="565.16" y1="1004.6" x2="565.16" y2="997.6" stroke="#5c5c5c" stroke-width="2.5"/>
<line x1="565.16" y1="605.5" x2="565.16" y2="612.5" stroke="#5c5c5c" stroke-width="2.5"/>
<line x1="682.77" y1="1004.6" x2="682.77" y2="997.6" stroke="#5c5c5c" stroke-width="2.5"/>
<line x1="682.77" y1="605.5" x2="682.77" y2="612.5" stroke="#5c5c5c" stroke-width="2.5"/>
<line x1="800.39" y1="1004.6" x2="800.39" y2="997.6" stroke="#5c5c5c" stroke-width="2.5"/>
<line x1="800.39" y1="605.5" x2="800.39" y2="612.5" stroke="#5c5c5c" stroke-width="2.5"/>
<line x1="918" y1="1004.6" x2="918" y2="997.6" stroke="#5c5c5c" stroke-width="2.5"/>
<line x1="918" y1="605.5" x2="918" y2="612.5" stroke="#5c5c5c" stroke-width="2.5"/>
<line x1="94.7" y1="1004.6" x2="101.7" y2="1004.6" stroke="#5c5c5c" stroke-width="2.5"/>
<line x1="918" y1="1004.6" x2="911" y2="1004.6" stroke="#5c5c5c" stroke-width="2.5"/>
<line x1="94.7" y1="924.78" x2="101.7" y2="924.78" stroke="#5c5c5c" stroke-width="2.5"/>
<line x1="918" y1="924.78" x2="911" y2="924.78" stroke="#5c5c5c" stroke-width="2.5"/>
<line x1="94.7" y1="844.96" x2="101.7" y2="844.96" stroke="#5c5c5c" stroke-width="2.5"/>
<line x1="918" y1="844.96" x2="911" y2="844.96" stroke="#5c5c5c" stroke-width="2.5"/>
<line x1="94.7" y1="765.14" x2="101.7" y2="765.14" stroke="#5c5c5c" stroke-width="2.5"/>
<line x1="918" y1="765.14" x2="911" y2="765.14" stroke="#5c5c5c" stroke-width="2.5"/>
<line x1="94.7" y1="685.32" x2="101.7" y2="685.32" stroke="#5c5c5c" stroke-width="2.5"/>
<line x1="918" y1="685.32" x2="911" y2="685.32" stroke="#5c5c5c" stroke-width="2.5"/>
<line x1="94.7" y1="605.5" x2="101.7" y2="605.5" stroke="#5c5c5c" stroke-width="2.5"/>
<line x1="918" y1="605.5" x2="911" y2="605.5" stroke="#5c5c5c" stroke-width="2.5"/>
<rect x="94.7" y="605.5" width="823.3" height="399.1" fill="none" stroke="#5c5c5c" stroke-width="2.5"/>
<text transform="translate(94.7,1039.35) scale(0.9300,1)" font-size="23.5" text-anchor="middle" font-weight="normal" fill="#444" stroke="#444" stroke-width="0.5" font-family="'Liberation Sans', Arial, Helvetica, sans-serif">0</text>
<text transform="translate(212.31,1039.35) scale(0.9300,1)" font-size="23.5" text-anchor="middle" font-weight="normal" fill="#444" stroke="#444" stroke-width="0.5" font-family="'Liberation Sans', Arial, Helvetica, sans-serif">100</text>
<text transform="translate(329.93,1039.35) scale(0.9300,1)" font-size="23.5" text-anchor="middle" font-weight="normal" fill="#444" stroke="#444" stroke-width="0.5" font-family="'Liberation Sans', Arial, Helvetica, sans-serif">200</text>
<text transform="translate(447.54,1039.35) scale(0.9300,1)" font-size="23.5" text-anchor="middle" font-weight="normal" fill="#444" stroke="#444" stroke-width="0.5" font-family="'Liberation Sans', Arial, Helvetica, sans-serif">300</text>
<text transform="translate(565.16,1039.35) scale(0.9300,1)" font-size="23.5" text-anchor="middle" font-weight="normal" fill="#444" stroke="#444" stroke-width="0.5" font-family="'Liberation Sans', Arial, Helvetica, sans-serif">400</text>
<text transform="translate(682.77,1039.35) scale(0.9300,1)" font-size="23.5" text-anchor="middle" font-weight="normal" fill="#444" stroke="#444" stroke-width="0.5" font-family="'Liberation Sans', Arial, Helvetica, sans-serif">500</text>
<text transform="translate(800.39,1039.35) scale(0.9300,1)" font-size="23.5" text-anchor="middle" font-weight="normal" fill="#444" stroke="#444" stroke-width="0.5" font-family="'Liberation Sans', Arial, Helvetica, sans-serif">600</text>
<text transform="translate(918,1039.35) scale(0.9300,1)" font-size="23.5" text-anchor="middle" font-weight="normal" fill="#444" stroke="#444" stroke-width="0.5" font-family="'Liberation Sans', Arial, Helvetica, sans-serif">700</text>
<text transform="translate(82.9,1014.83) scale(0.9300,1)" font-size="23.5" text-anchor="end" font-weight="normal" fill="#444" stroke="#444" stroke-width="0.5" font-family="'Liberation Sans', Arial, Helvetica, sans-serif">-10</text>
<text transform="translate(82.9,935) scale(0.9300,1)" font-size="23.5" text-anchor="end" font-weight="normal" fill="#444" stroke="#444" stroke-width="0.5" font-family="'Liberation Sans', Arial, Helvetica, sans-serif">-5</text>
<text transform="translate(82.9,855.19) scale(0.9300,1)" font-size="23.5" text-anchor="end" font-weight="normal" fill="#444" stroke="#444" stroke-width="0.5" font-family="'Liberation Sans', Arial, Helvetica, sans-serif">0</text>
<text transform="translate(82.9,775.37) scale(0.9300,1)" font-size="23.5" text-anchor="end" font-weight="normal" fill="#444" stroke="#444" stroke-width="0.5" font-family="'Liberation Sans', Arial, Helvetica, sans-serif">5</text>
<text transform="translate(82.9,695.54) scale(0.9300,1)" font-size="23.5" text-anchor="end" font-weight="normal" fill="#444" stroke="#444" stroke-width="0.5" font-family="'Liberation Sans', Arial, Helvetica, sans-serif">10</text>
<text transform="translate(82.9,615.73) scale(0.9300,1)" font-size="23.5" text-anchor="end" font-weight="normal" fill="#444" stroke="#444" stroke-width="0.5" font-family="'Liberation Sans', Arial, Helvetica, sans-serif">15</text>
<rect x="755.6" y="628.7" width="139.4" height="34.7" fill="#fff" stroke="#5c5c5c" stroke-width="2.5"/>
<line x1="762.3" y1="646.5" x2="833.8" y2="646.5" stroke="#2aa3dc" stroke-width="3.2"/>
<text transform="translate(840,655.3)" font-size="22" text-anchor="start" font-weight="normal" fill="#222" stroke="#222" stroke-width="0.5" font-family="'Liberation Sans', Arial, Helvetica, sans-serif">Error</text>
<text transform="translate(506.5,591)" font-size="26.4" text-anchor="middle" font-weight="bold" fill="#000" stroke="#000" stroke-width="0.5" font-family="'Liberation Sans', Arial, Helvetica, sans-serif">MAE = 2.3565, RMSE = 3.2892</text>
<text transform="translate(507,1075.9)" font-size="26.4" text-anchor="middle" font-weight="normal" fill="#333" stroke="#333" stroke-width="0.5" font-family="'Liberation Sans', Arial, Helvetica, sans-serif">Sample Index</text>
<text transform="translate(34.4,805) rotate(-90)" font-size="26.4" text-anchor="middle" font-weight="normal" fill="#333" stroke="#333" stroke-width="0.5" font-family="'Liberation Sans', Arial, Helvetica, sans-serif">Error</text>
<rect x="1281.5" y="998.8" width="14.23" height="5.7" fill="#0072bd" stroke="#111" stroke-width="1.6"/>
<rect x="1295.73" y="987.4" width="14.23" height="17.1" fill="#0072bd" stroke="#111" stroke-width="1.6"/>
<rect x="1309.95" y="958.91" width="14.23" height="45.59" fill="#0072bd" stroke="#111" stroke-width="1.6"/>
<rect x="1324.18" y="970.31" width="14.23" height="34.19" fill="#0072bd" stroke="#111" stroke-width="1.6"/>
<rect x="1338.4" y="981.71" width="14.23" height="22.79" fill="#0072bd" stroke="#111" stroke-width="1.6"/>
<rect x="1352.63" y="987.4" width="14.23" height="17.1" fill="#0072bd" stroke="#111" stroke-width="1.6"/>
<rect x="1366.86" y="964.61" width="14.23" height="39.89" fill="#0072bd" stroke="#111" stroke-width="1.6"/>
<rect x="1381.08" y="941.82" width="14.23" height="62.68" fill="#0072bd" stroke="#111" stroke-width="1.6"/>
<rect x="1395.31" y="958.91" width="14.23" height="45.59" fill="#0072bd" stroke="#111" stroke-width="1.6"/>
<rect x="1409.53" y="919.02" width="14.23" height="85.48" fill="#0072bd" stroke="#111" stroke-width="1.6"/>
<rect x="1423.76" y="913.32" width="14.23" height="91.18" fill="#0072bd" stroke="#111" stroke-width="1.6"/>
<rect x="1437.99" y="884.83" width="14.23" height="119.67" fill="#0072bd" stroke="#111" stroke-width="1.6"/>
<rect x="1452.21" y="867.73" width="14.23" height="136.77" fill="#0072bd" stroke="#111" stroke-width="1.6"/>
<rect x="1466.44" y="850.64" width="14.23" height="153.86" fill="#0072bd" stroke="#111" stroke-width="1.6"/>
<rect x="1480.66" y="776.56" width="14.23" height="227.94" fill="#0072bd" stroke="#111" stroke-width="1.6"/>
<rect x="1494.89" y="748.06" width="14.23" height="256.44" fill="#0072bd" stroke="#111" stroke-width="1.6"/>
<rect x="1509.12" y="628.39" width="14.23" height="376.11" fill="#0072bd" stroke="#111" stroke-width="1.6"/>
<rect x="1523.34" y="708.17" width="14.23" height="296.33" fill="#0072bd" stroke="#111" stroke-width="1.6"/>
<rect x="1537.57" y="793.65" width="14.23" height="210.85" fill="#0072bd" stroke="#111" stroke-width="1.6"/>
<rect x="1551.79" y="833.54" width="14.23" height="170.96" fill="#0072bd" stroke="#111" stroke-width="1.6"/>
<rect x="1566.02" y="907.62" width="14.23" height="96.88" fill="#0072bd" stroke="#111" stroke-width="1.6"/>
<rect x="1580.25" y="941.82" width="14.23" height="62.68" fill="#0072bd" stroke="#111" stroke-width="1.6"/>
<rect x="1594.47" y="919.02" width="14.23" height="85.48" fill="#0072bd" stroke="#111" stroke-width="1.6"/>
<rect x="1608.7" y="924.72" width="14.23" height="79.78" fill="#0072bd" stroke="#111" stroke-width="1.6"/>
<rect x="1622.92" y="901.93" width="14.23" height="102.57" fill="#0072bd" stroke="#111" stroke-width="1.6"/>
<rect x="1637.15" y="844.94" width="14.23" height="159.56" fill="#0072bd" stroke="#111" stroke-width="1.6"/>
<rect x="1651.38" y="947.51" width="14.23" height="56.99" fill="#0072bd" stroke="#111" stroke-width="1.6"/>
<rect x="1665.6" y="953.21" width="14.23" height="51.29" fill="#0072bd" stroke="#111" stroke-width="1.6"/>
<rect x="1679.83" y="890.53" width="14.23" height="113.97" fill="#0072bd" stroke="#111" stroke-width="1.6"/>
<rect x="1694.05" y="970.31" width="14.23" height="34.19" fill="#0072bd" stroke="#111" stroke-width="1.6"/>
<rect x="1708.28" y="964.61" width="14.23" height="39.89" fill="#0072bd" stroke="#111" stroke-width="1.6"/>
<rect x="1722.51" y="981.71" width="14.23" height="22.79" fill="#0072bd" stroke="#111" stroke-width="1.6"/>
<rect x="1765.18" y="998.8" width="14.23" height="5.7" fill="#0072bd" stroke="#111" stroke-width="1.6"/>
<rect x="1779.41" y="998.8" width="14.23" height="5.7" fill="#0072bd" stroke="#111" stroke-width="1.6"/>
<rect x="1836.31" y="998.8" width="14.23" height="5.7" fill="#0072bd" stroke="#111" stroke-width="1.6"/>
<rect x="1850.54" y="987.4" width="14.23" height="17.1" fill="#0072bd" stroke="#111" stroke-width="1.6"/>
<rect x="1864.77" y="981.71" width="14.23" height="22.79" fill="#0072bd" stroke="#111" stroke-width="1.6"/>
<rect x="1878.99" y="981.71" width="14.23" height="22.79" fill="#0072bd" stroke="#111" stroke-width="1.6"/>
<rect x="1907.44" y="981.71" width="14.23" height="22.79" fill="#0072bd" stroke="#111" stroke-width="1.6"/>
<rect x="1921.67" y="987.4" width="14.23" height="17.1" fill="#0072bd" stroke="#111" stroke-width="1.6"/>
<rect x="1935.9" y="976.01" width="14.23" height="28.49" fill="#0072bd" stroke="#111" stroke-width="1.6"/>
<rect x="1950.12" y="993.1" width="14.23" height="11.4" fill="#0072bd" stroke="#111" stroke-width="1.6"/>
<rect x="1964.35" y="998.8" width="14.23" height="5.7" fill="#0072bd" stroke="#111" stroke-width="1.6"/>
<rect x="1978.57" y="993.1" width="14.23" height="11.4" fill="#0072bd" stroke="#111" stroke-width="1.6"/>
<polyline points="1183.88,1002.67 1191.19,1002.31 1198.5,1001.89 1205.81,1001.4 1213.12,1000.83 1220.43,1000.16 1227.74,999.4 1235.05,998.53 1242.37,997.54 1249.68,996.41 1256.99,995.12 1264.3,993.68 1271.61,992.06 1278.92,990.25 1286.23,988.23 1293.54,986 1300.85,983.54 1308.16,980.84 1315.47,977.89 1322.78,974.68 1330.09,971.21 1337.41,967.46 1344.72,963.45 1352.03,959.17 1359.34,954.63 1366.65,949.83 1373.96,944.8 1381.27,939.53 1388.58,934.07 1395.89,928.42 1403.2,922.62 1410.51,916.7 1417.82,910.7 1425.13,904.65 1432.45,898.61 1439.76,892.61 1447.07,886.71 1454.38,880.95 1461.69,875.38 1469,870.06 1476.31,865.03 1483.62,860.34 1490.93,856.04 1498.24,852.17 1505.55,848.78 1512.86,845.89 1520.18,843.54 1527.49,841.76 1534.8,840.56 1542.11,839.96 1549.42,839.96 1556.73,840.56 1564.04,841.76 1571.35,843.54 1578.66,845.89 1585.97,848.78 1593.28,852.17 1600.59,856.04 1607.9,860.34 1615.22,865.03 1622.53,870.06 1629.84,875.38 1637.15,880.95 1644.46,886.71 1651.77,892.61 1659.08,898.61 1666.39,904.65 1673.7,910.7 1681.01,916.7 1688.32,922.62 1695.63,928.42 1702.94,934.07 1710.26,939.53 1717.57,944.8 1724.88,949.83 1732.19,954.63 1739.5,959.17 1746.81,963.45 1754.12,967.46 1761.43,971.21 1768.74,974.68 1776.05,977.89 1783.36,980.84 1790.67,983.54 1797.98,986 1805.3,988.23 1812.61,990.25 1819.92,992.06 1827.23,993.68 1834.54,995.12 1841.85,996.41 1849.16,997.54 1856.47,998.53 1863.78,999.4 1871.09,1000.16 1878.4,1000.83 1885.71,1001.4 1893.03,1001.89 1900.34,1002.31 1907.65,1002.67" fill="none" stroke="#ff0000" stroke-width="4.4" stroke-linejoin="round"/>
<line x1="1180.2" y1="1004.5" x2="1180.2" y2="997.5" stroke="#5c5c5c" stroke-width="2.5"/>
<line x1="1180.2" y1="605.6" x2="1180.2" y2="612.6" stroke="#5c5c5c" stroke-width="2.5"/>
<line x1="1361.78" y1="1004.5" x2="1361.78" y2="997.5" stroke="#5c5c5c" stroke-width="2.5"/>
<line x1="1361.78" y1="605.6" x2="1361.78" y2="612.6" stroke="#5c5c5c" stroke-width="2.5"/>
<line x1="1545" y1="1004.5" x2="1545" y2="997.5" stroke="#5c5c5c" stroke-width="2.5"/>
<line x1="1545" y1="605.6" x2="1545" y2="612.6" stroke="#5c5c5c" stroke-width="2.5"/>
<line x1="1728.22" y1="1004.5" x2="1728.22" y2="997.5" stroke="#5c5c5c" stroke-width="2.5"/>
<line x1="1728.22" y1="605.6" x2="1728.22" y2="612.6" stroke="#5c5c5c" stroke-width="2.5"/>
<line x1="1911.45" y1="1004.5" x2="1911.45" y2="997.5" stroke="#5c5c5c" stroke-width="2.5"/>
<line x1="1911.45" y1="605.6" x2="1911.45" y2="612.6" stroke="#5c5c5c" stroke-width="2.5"/>
<line x1="1180.2" y1="1004.5" x2="1187.2" y2="1004.5" stroke="#5c5c5c" stroke-width="2.5"/>
<line x1="2003.8" y1="1004.5" x2="1996.8" y2="1004.5" stroke="#5c5c5c" stroke-width="2.5"/>
<line x1="1180.2" y1="947.51" x2="1187.2" y2="947.51" stroke="#5c5c5c" stroke-width="2.5"/>
<line x1="2003.8" y1="947.51" x2="1996.8" y2="947.51" stroke="#5c5c5c" stroke-width="2.5"/>
<line x1="1180.2" y1="890.53" x2="1187.2" y2="890.53" stroke="#5c5c5c" stroke-width="2.5"/>
<line x1="2003.8" y1="890.53" x2="1996.8" y2="890.53" stroke="#5c5c5c" stroke-width="2.5"/>
<line x1="1180.2" y1="833.54" x2="1187.2" y2="833.54" stroke="#5c5c5c" stroke-width="2.5"/>
<line x1="2003.8" y1="833.54" x2="1996.8" y2="833.54" stroke="#5c5c5c" stroke-width="2.5"/>
<line x1="1180.2" y1="776.56" x2="1187.2" y2="776.56" stroke="#5c5c5c" stroke-width="2.5"/>
<line x1="2003.8" y1="776.56" x2="1996.8" y2="776.56" stroke="#5c5c5c" stroke-width="2.5"/>
<line x1="1180.2" y1="719.57" x2="1187.2" y2="719.57" stroke="#5c5c5c" stroke-width="2.5"/>
<line x1="2003.8" y1="719.57" x2="1996.8" y2="719.57" stroke="#5c5c5c" stroke-width="2.5"/>
<line x1="1180.2" y1="662.59" x2="1187.2" y2="662.59" stroke="#5c5c5c" stroke-width="2.5"/>
<line x1="2003.8" y1="662.59" x2="1996.8" y2="662.59" stroke="#5c5c5c" stroke-width="2.5"/>
<line x1="1180.2" y1="605.6" x2="1187.2" y2="605.6" stroke="#5c5c5c" stroke-width="2.5"/>
<line x1="2003.8" y1="605.6" x2="1996.8" y2="605.6" stroke="#5c5c5c" stroke-width="2.5"/>
<rect x="1180.2" y="605.6" width="823.6" height="398.9" fill="none" stroke="#5c5c5c" stroke-width="2.5"/>
<text transform="translate(1178.55,1039.25) scale(0.9300,1)" font-size="23.5" text-anchor="middle" font-weight="normal" fill="#444" stroke="#444" stroke-width="0.5" font-family="'Liberation Sans', Arial, Helvetica, sans-serif">-10</text>
<text transform="translate(1361.78,1039.25) scale(0.9300,1)" font-size="23.5" text-anchor="middle" font-weight="normal" fill="#444" stroke="#444" stroke-width="0.5" font-family="'Liberation Sans', Arial, Helvetica, sans-serif">-5</text>
<text transform="translate(1545,1039.25) scale(0.9300,1)" font-size="23.5" text-anchor="middle" font-weight="normal" fill="#444" stroke="#444" stroke-width="0.5" font-family="'Liberation Sans', Arial, Helvetica, sans-serif">0</text>
<text transform="translate(1728.22,1039.25) scale(0.9300,1)" font-size="23.5" text-anchor="middle" font-weight="normal" fill="#444" stroke="#444" stroke-width="0.5" font-family="'Liberation Sans', Arial, Helvetica, sans-serif">5</text>
<text transform="translate(1911.45,1039.25) scale(0.9300,1)" font-size="23.5" text-anchor="middle" font-weight="normal" fill="#444" stroke="#444" stroke-width="0.5" font-family="'Liberation Sans', Arial, Helvetica, sans-serif">10</text>
<text transform="translate(1168.4,1014.73) scale(0.9300,1)" font-size="23.5" text-anchor="end" font-weight="normal" fill="#444" stroke="#444" stroke-width="0.5" font-family="'Liberation Sans', Arial, Helvetica, sans-serif">0</text>
<text transform="translate(1168.4,957.74) scale(0.9300,1)" font-size="23.5" text-anchor="end" font-weight="normal" fill="#444" stroke="#444" stroke-width="0.5" font-family="'Liberation Sans', Arial, Helvetica, sans-serif">10</text>
<text transform="translate(1168.4,900.75) scale(0.9300,1)" font-size="23.5" text-anchor="end" font-weight="normal" fill="#444" stroke="#444" stroke-width="0.5" font-family="'Liberation Sans', Arial, Helvetica, sans-serif">20</text>
<text transform="translate(1168.4,843.77) scale(0.9300,1)" font-size="23.5" text-anchor="end" font-weight="normal" fill="#444" stroke="#444" stroke-width="0.5" font-family="'Liberation Sans', Arial, Helvetica, sans-serif">30</text>
<text transform="translate(1168.4,786.78) scale(0.9300,1)" font-size="23.5" text-anchor="end" font-weight="normal" fill="#444" stroke="#444" stroke-width="0.5" font-family="'Liberation Sans', Arial, Helvetica, sans-serif">40</text>
<text transform="translate(1168.4,729.8) scale(0.9300,1)" font-size="23.5" text-anchor="end" font-weight="normal" fill="#444" stroke="#444" stroke-width="0.5" font-family="'Liberation Sans', Arial, Helvetica, sans-serif">50</text>
<text transform="translate(1168.4,672.81) scale(0.9300,1)" font-size="23.5" text-anchor="end" font-weight="normal" fill="#444" stroke="#444" stroke-width="0.5" font-family="'Liberation Sans', Arial, Helvetica, sans-serif">60</text>
<text transform="translate(1168.4,615.83) scale(0.9300,1)" font-size="23.5" text-anchor="end" font-weight="normal" fill="#444" stroke="#444" stroke-width="0.5" font-family="'Liberation Sans', Arial, Helvetica, sans-serif">70</text>
<text transform="translate(1592,591.2)" font-size="26.4" text-anchor="middle" font-weight="bold" fill="#000" stroke="#000" stroke-width="0.5" font-family="'Liberation Sans', Arial, Helvetica, sans-serif">Error Mean = 0.020815, Error St.D. = 3.2918</text>
<text transform="translate(1592,1076.4)" font-size="26.4" text-anchor="middle" font-weight="normal" fill="#333" stroke="#333" stroke-width="0.5" font-family="'Liberation Sans', Arial, Helvetica, sans-serif">Error</text>
<text transform="translate(1127.8,805) rotate(-90)" font-size="26.4" text-anchor="middle" font-weight="normal" fill="#333" stroke="#333" stroke-width="0.5" font-family="'Liberation Sans', Arial, Helvetica, sans-serif">Frequency</text>
<line x1="714.88" y1="1294.3" x2="714.88" y2="1694.1" stroke="#e4e4e4" stroke-width="2"/>
<line x1="1334.77" y1="1294.3" x2="1334.77" y2="1694.1" stroke="#e4e4e4" stroke-width="2"/>
<line x1="1954.65" y1="1294.3" x2="1954.65" y2="1694.1" stroke="#e4e4e4" stroke-width="2"/>
<line x1="95" y1="1614.14" x2="2003" y2="1614.14" stroke="#e4e4e4" stroke-width="2"/>
<line x1="95" y1="1534.18" x2="2003" y2="1534.18" stroke="#e4e4e4" stroke-width="2"/>
<line x1="95" y1="1454.22" x2="2003" y2="1454.22" stroke="#e4e4e4" stroke-width="2"/>
<line x1="95" y1="1374.26" x2="2003" y2="1374.26" stroke="#e4e4e4" stroke-width="2"/>
<g clip-path="url(#clipAtest)">
<polyline points="107.4,1580.56 119.8,1425.43 132.19,1519.79 144.59,1552.57 156.99,1454.22 169.39,1554.17 181.78,1431.83 194.18,1522.99 206.58,1400.65 218.98,1578.96 231.37,1565.36 243.77,1454.22 256.17,1575.76 268.57,1539.78 280.96,1569.36 293.36,1602.15 305.76,1574.96 318.16,1604.54 330.56,1581.36 342.95,1507.79 355.35,1562.17 367.75,1535.78 380.15,1552.57 392.54,1360.67 404.94,1368.66 417.34,1558.17 429.74,1596.55 442.13,1570.96 454.53,1562.17 466.93,1583.76 479.33,1574.16 491.73,1578.16 504.12,1395.85 516.52,1411.84 528.92,1578.16 541.32,1562.17 553.71,1574.96 566.11,1572.56 578.51,1408.64 590.91,1467.81 603.3,1397.45 615.7,1596.55 628.1,1582.16 640.5,1426.23 652.89,1455.02 665.29,1495.8 677.69,1582.16 690.09,1577.36 702.49,1496.6 714.88,1528.58 727.28,1411.04 739.68,1437.43 752.08,1578.16 764.47,1420.64 776.87,1538.18 789.27,1457.42 801.67,1469.41 814.06,1455.02 826.46,1381.46 838.86,1421.44 851.26,1405.44 863.65,1406.24 876.05,1383.06 888.45,1565.36 900.85,1578.96 913.25,1484.6 925.64,1429.43 938.04,1486.2 950.44,1578.96 962.84,1384.65 975.23,1439.83 987.63,1530.18 1000.03,1570.96 1012.43,1420.64 1024.82,1400.65 1037.22,1419.84 1049.62,1578.16 1062.02,1445.42 1074.42,1553.37 1086.81,1572.56 1099.21,1563.77 1111.61,1554.97 1124.01,1473.41 1136.4,1415.04 1148.8,1331.88 1161.2,1546.97 1173.6,1445.42 1185.99,1584.55 1198.39,1574.96 1210.79,1442.23 1223.19,1572.56 1235.58,1419.84 1247.98,1447.82 1260.38,1586.15 1272.78,1563.77 1285.18,1521.39 1297.57,1369.46 1309.97,1565.36 1322.37,1583.76 1334.77,1421.44 1347.16,1420.64 1359.56,1578.96 1371.96,1475.01 1384.36,1431.03 1396.75,1481.41 1409.15,1421.44 1421.55,1423.04 1433.95,1412.64 1446.35,1392.65 1458.74,1558.17 1471.14,1333.48 1483.54,1565.36 1495.94,1460.62 1508.33,1578.96 1520.73,1560.57 1533.13,1490.2 1545.53,1594.15 1557.92,1405.44 1570.32,1395.05 1582.72,1558.17 1595.12,1596.55 1607.51,1570.16 1619.91,1408.64 1632.31,1533.38 1644.71,1566.16 1657.11,1471.01 1669.5,1570.96 1681.9,1596.55 1694.3,1600.55 1706.7,1433.43 1719.09,1558.97 1731.49,1558.17 1743.89,1487.8 1756.29,1462.22 1768.68,1474.21 1781.08,1409.44 1793.48,1566.16 1805.88,1397.45 1818.27,1540.58 1830.67,1554.17 1843.07,1450.22 1855.47,1393.45 1867.87,1552.57 1880.26,1467.01 1892.66,1479.81 1905.06,1538.18 1917.46,1399.05 1929.85,1554.17 1942.25,1586.15 1954.65,1576.56 1967.05,1451.02 1979.44,1575.76 1991.84,1447.82 2004.24,1381.46" fill="none" stroke="#1a1aff" stroke-width="1.9" stroke-linejoin="round" stroke-opacity="1.0"/>
<polyline points="107.4,1580.56 119.8,1401.45 132.19,1538.98 144.59,1560.57 156.99,1454.22 169.39,1574.16 181.78,1445.42 194.18,1468.61 206.58,1388.65 218.98,1570.96 231.37,1565.36 243.77,1428.63 256.17,1572.56 268.57,1576.56 280.96,1574.96 293.36,1587.75 305.76,1576.56 318.16,1589.35 330.56,1581.36 342.95,1482.21 355.35,1565.36 367.75,1554.17 380.15,1562.17 392.54,1438.23 404.94,1381.46 417.34,1562.17 429.74,1584.55 442.13,1569.36 454.53,1554.97 466.93,1574.16 479.33,1564.56 491.73,1570.16 504.12,1386.25 516.52,1435.03 528.92,1572.56 541.32,1577.36 553.71,1564.56 566.11,1575.76 578.51,1425.43 590.91,1442.23 603.3,1431.03 615.7,1587.75 628.1,1580.56 640.5,1445.42 652.89,1442.23 665.29,1447.82 677.69,1566.96 690.09,1577.36 702.49,1450.22 714.88,1556.57 727.28,1435.03 739.68,1462.22 752.08,1559.77 764.47,1420.64 776.87,1570.96 789.27,1426.23 801.67,1420.64 814.06,1447.82 826.46,1387.85 838.86,1399.85 851.26,1414.24 863.65,1419.84 876.05,1411.84 888.45,1530.18 900.85,1569.36 913.25,1469.41 925.64,1417.44 938.04,1467.01 950.44,1565.36 962.84,1408.64 975.23,1453.42 987.63,1559.77 1000.03,1577.36 1012.43,1406.24 1024.82,1418.24 1037.22,1420.64 1049.62,1578.16 1062.02,1427.03 1074.42,1539.78 1086.81,1570.16 1099.21,1563.77 1111.61,1558.97 1124.01,1469.41 1136.4,1417.44 1148.8,1417.44 1161.2,1572.56 1173.6,1462.22 1185.99,1577.36 1198.39,1569.36 1210.79,1427.03 1223.19,1568.56 1235.58,1404.64 1247.98,1437.43 1260.38,1582.16 1272.78,1570.96 1285.18,1534.18 1297.57,1383.06 1309.97,1565.36 1322.37,1577.36 1334.77,1418.24 1347.16,1431.03 1359.56,1578.96 1371.96,1459.02 1384.36,1423.84 1396.75,1429.43 1409.15,1443.03 1421.55,1400.65 1433.95,1431.03 1446.35,1382.26 1458.74,1582.96 1471.14,1416.64 1483.54,1563.77 1495.94,1438.23 1508.33,1572.56 1520.73,1576.56 1533.13,1474.21 1545.53,1582.16 1557.92,1431.83 1570.32,1416.64 1582.72,1539.78 1595.12,1584.55 1607.51,1569.36 1619.91,1390.25 1632.31,1550.97 1644.71,1572.56 1657.11,1430.23 1669.5,1570.16 1681.9,1582.16 1694.3,1587.75 1706.7,1438.23 1719.09,1556.57 1731.49,1575.76 1743.89,1467.81 1756.29,1419.84 1768.68,1445.42 1781.08,1387.85 1793.48,1550.97 1805.88,1416.64 1818.27,1563.77 1830.67,1553.37 1843.07,1455.02 1855.47,1412.64 1867.87,1575.76 1880.26,1443.03 1892.66,1429.43 1905.06,1548.57 1917.46,1435.03 1929.85,1535.78 1942.25,1574.96 1954.65,1566.16 1967.05,1421.44 1979.44,1575.76 1991.84,1451.02 2004.24,1414.24" fill="none" stroke="#ff1a1a" stroke-width="1.9" stroke-linejoin="round" stroke-opacity="1.0"/>
</g>
<clipPath id="clipAtest"><rect x="95" y="1294.3" width="1908" height="399.8"/></clipPath>
<line x1="95" y1="1694.1" x2="95" y2="1677.1" stroke="#5c5c5c" stroke-width="2.5"/>
<line x1="95" y1="1294.3" x2="95" y2="1311.3" stroke="#5c5c5c" stroke-width="2.5"/>
<line x1="714.88" y1="1694.1" x2="714.88" y2="1677.1" stroke="#5c5c5c" stroke-width="2.5"/>
<line x1="714.88" y1="1294.3" x2="714.88" y2="1311.3" stroke="#5c5c5c" stroke-width="2.5"/>
<line x1="1334.77" y1="1694.1" x2="1334.77" y2="1677.1" stroke="#5c5c5c" stroke-width="2.5"/>
<line x1="1334.77" y1="1294.3" x2="1334.77" y2="1311.3" stroke="#5c5c5c" stroke-width="2.5"/>
<line x1="1954.65" y1="1694.1" x2="1954.65" y2="1677.1" stroke="#5c5c5c" stroke-width="2.5"/>
<line x1="1954.65" y1="1294.3" x2="1954.65" y2="1311.3" stroke="#5c5c5c" stroke-width="2.5"/>
<line x1="95" y1="1694.1" x2="112" y2="1694.1" stroke="#5c5c5c" stroke-width="2.5"/>
<line x1="2003" y1="1694.1" x2="1986" y2="1694.1" stroke="#5c5c5c" stroke-width="2.5"/>
<line x1="95" y1="1614.14" x2="112" y2="1614.14" stroke="#5c5c5c" stroke-width="2.5"/>
<line x1="2003" y1="1614.14" x2="1986" y2="1614.14" stroke="#5c5c5c" stroke-width="2.5"/>
<line x1="95" y1="1534.18" x2="112" y2="1534.18" stroke="#5c5c5c" stroke-width="2.5"/>
<line x1="2003" y1="1534.18" x2="1986" y2="1534.18" stroke="#5c5c5c" stroke-width="2.5"/>
<line x1="95" y1="1454.22" x2="112" y2="1454.22" stroke="#5c5c5c" stroke-width="2.5"/>
<line x1="2003" y1="1454.22" x2="1986" y2="1454.22" stroke="#5c5c5c" stroke-width="2.5"/>
<line x1="95" y1="1374.26" x2="112" y2="1374.26" stroke="#5c5c5c" stroke-width="2.5"/>
<line x1="2003" y1="1374.26" x2="1986" y2="1374.26" stroke="#5c5c5c" stroke-width="2.5"/>
<line x1="95" y1="1294.3" x2="112" y2="1294.3" stroke="#5c5c5c" stroke-width="2.5"/>
<line x1="2003" y1="1294.3" x2="1986" y2="1294.3" stroke="#5c5c5c" stroke-width="2.5"/>
<rect x="95" y="1294.3" width="1908" height="399.8" fill="none" stroke="#5c5c5c" stroke-width="2.5"/>
<text transform="translate(95,1728.85) scale(0.9300,1)" font-size="23.5" text-anchor="middle" font-weight="normal" fill="#444" stroke="#444" stroke-width="0.5" font-family="'Liberation Sans', Arial, Helvetica, sans-serif">0</text>
<text transform="translate(714.88,1728.85) scale(0.9300,1)" font-size="23.5" text-anchor="middle" font-weight="normal" fill="#444" stroke="#444" stroke-width="0.5" font-family="'Liberation Sans', Arial, Helvetica, sans-serif">50</text>
<text transform="translate(1334.77,1728.85) scale(0.9300,1)" font-size="23.5" text-anchor="middle" font-weight="normal" fill="#444" stroke="#444" stroke-width="0.5" font-family="'Liberation Sans', Arial, Helvetica, sans-serif">100</text>
<text transform="translate(1954.65,1728.85) scale(0.9300,1)" font-size="23.5" text-anchor="middle" font-weight="normal" fill="#444" stroke="#444" stroke-width="0.5" font-family="'Liberation Sans', Arial, Helvetica, sans-serif">150</text>
<text transform="translate(83.2,1704.32) scale(0.9300,1)" font-size="23.5" text-anchor="end" font-weight="normal" fill="#444" stroke="#444" stroke-width="0.5" font-family="'Liberation Sans', Arial, Helvetica, sans-serif">0</text>
<text transform="translate(83.2,1624.36) scale(0.9300,1)" font-size="23.5" text-anchor="end" font-weight="normal" fill="#444" stroke="#444" stroke-width="0.5" font-family="'Liberation Sans', Arial, Helvetica, sans-serif">10</text>
<text transform="translate(83.2,1544.4) scale(0.9300,1)" font-size="23.5" text-anchor="end" font-weight="normal" fill="#444" stroke="#444" stroke-width="0.5" font-family="'Liberation Sans', Arial, Helvetica, sans-serif">20</text>
<text transform="translate(83.2,1464.44) scale(0.9300,1)" font-size="23.5" text-anchor="end" font-weight="normal" fill="#444" stroke="#444" stroke-width="0.5" font-family="'Liberation Sans', Arial, Helvetica, sans-serif">30</text>
<text transform="translate(83.2,1384.48) scale(0.9300,1)" font-size="23.5" text-anchor="end" font-weight="normal" fill="#444" stroke="#444" stroke-width="0.5" font-family="'Liberation Sans', Arial, Helvetica, sans-serif">40</text>
<text transform="translate(83.2,1304.52) scale(0.9300,1)" font-size="23.5" text-anchor="end" font-weight="normal" fill="#444" stroke="#444" stroke-width="0.5" font-family="'Liberation Sans', Arial, Helvetica, sans-serif">50</text>
<rect x="1822.3" y="1317.6" width="157.6" height="64.8" fill="#fff" stroke="#5c5c5c" stroke-width="2.5"/>
<line x1="1829.5" y1="1335.5" x2="1900.8" y2="1335.5" stroke="#4545ff" stroke-width="3.2"/>
<line x1="1829.5" y1="1364.7" x2="1900.8" y2="1364.7" stroke="#ff4545" stroke-width="3.2"/>
<text transform="translate(1907.5,1343.7)" font-size="22" text-anchor="start" font-weight="normal" fill="#222" stroke="#222" stroke-width="0.5" font-family="'Liberation Sans', Arial, Helvetica, sans-serif">Target</text>
<text transform="translate(1907,1374.2)" font-size="22" text-anchor="start" font-weight="normal" fill="#222" stroke="#222" stroke-width="0.5" font-family="'Liberation Sans', Arial, Helvetica, sans-serif">Output</text>
<text transform="translate(1049,1280.7)" font-size="26.4" text-anchor="middle" font-weight="bold" fill="#000" stroke="#000" stroke-width="0.5" font-family="'Liberation Sans', Arial, Helvetica, sans-serif">Test Data</text>
<text transform="translate(1049,1765.3)" font-size="26.4" text-anchor="middle" font-weight="normal" fill="#333" stroke="#333" stroke-width="0.5" font-family="'Liberation Sans', Arial, Helvetica, sans-serif">Sample Index</text>
<text transform="translate(42.9,1528.4) rotate(-90) scale(1.033,1)" font-size="26.4" fill="#333" stroke="#333" stroke-width="0.5" font-family="'Liberation Sans', Arial, Helvetica, sans-serif">Value <tspan font-size="28.7" fill="#222" dx="2.5">{kW}</tspan></text>
<line x1="197.88" y1="1851.6" x2="197.88" y2="2250.7" stroke="#e4e4e4" stroke-width="2"/>
<line x1="300.75" y1="1851.6" x2="300.75" y2="2250.7" stroke="#e4e4e4" stroke-width="2"/>
<line x1="403.62" y1="1851.6" x2="403.62" y2="2250.7" stroke="#e4e4e4" stroke-width="2"/>
<line x1="506.5" y1="1851.6" x2="506.5" y2="2250.7" stroke="#e4e4e4" stroke-width="2"/>
<line x1="609.38" y1="1851.6" x2="609.38" y2="2250.7" stroke="#e4e4e4" stroke-width="2"/>
<line x1="712.25" y1="1851.6" x2="712.25" y2="2250.7" stroke="#e4e4e4" stroke-width="2"/>
<line x1="815.12" y1="1851.6" x2="815.12" y2="2250.7" stroke="#e4e4e4" stroke-width="2"/>
<line x1="95" y1="2170.88" x2="918" y2="2170.88" stroke="#e4e4e4" stroke-width="2"/>
<line x1="95" y1="2091.06" x2="918" y2="2091.06" stroke="#e4e4e4" stroke-width="2"/>
<line x1="95" y1="2011.24" x2="918" y2="2011.24" stroke="#e4e4e4" stroke-width="2"/>
<line x1="95" y1="1931.42" x2="918" y2="1931.42" stroke="#e4e4e4" stroke-width="2"/>
<polyline points="100.14,2091.06 105.29,2138.95 110.43,2046.36 115.58,2077.49 120.72,2088.83 125.86,2064.56 131.01,2064.56 136.15,2196.42 141.29,2116.6 146.44,2110.22 151.58,2085.63 156.72,2137.36 161.87,2100.16 167.01,2017.63 172.16,2077.49 177.3,2121.39 182.44,2082.28 187.59,2121.39 192.73,2090.42 197.88,2137.36 203.02,2087.23 208.16,2054.98 213.31,2072.7 218.45,1933.81 223.59,2062.96 228.74,2074.3 233.88,2113.41 239.02,2095.85 244.17,2108.14 249.31,2113.41 254.46,2111.81 259.6,2110.22 264.74,2104.95 269.89,2038.38 275.03,2104.95 280.18,2059.77 285.32,2115.01 290.46,2077.49 295.61,2058.17 300.75,2143.74 305.89,2024.01 311.04,2110.22 316.18,2101.76 321.33,2052.75 326.47,2118.2 331.61,2183.65 336.76,2118.2 341.9,2088.83 347.04,2180.46 352.19,2042.05 357.33,2044.76 362.48,2039.98 367.62,2119.8 372.76,2083.08 377.91,2028.8 383.05,2154.92 388.19,2188.44 393.34,2106.55 398.48,2074.3 403.62,2135.76 408.77,2072.7 413.91,2064.56 419.06,2031.99 424.2,2164.49 429.34,2116.6 434.49,2121.39 439.63,2116.6 444.77,2126.18 449.92,2116.6 455.06,2044.76 460.21,2092.02 465.35,2030.4 470.49,2075.89 475.64,2122.99 480.78,2055.94 485.92,2093.61 491.07,2077.49 496.21,2126.18 501.36,2118.2 506.5,2095.85 511.64,2093.61 516.79,2080.68 521.93,2106.55 527.08,2100.16 532.22,1918.65 537.36,2059.77 542.51,2055.94 547.65,2104.95 552.79,2104.95 557.94,2121.39 563.08,2101.76 568.22,2121.39 573.37,2118.2 578.51,2101.76 583.66,2066.16 588.8,2062.96 593.94,2064.56 599.09,2090.42 604.23,2104.95 609.38,2103.35 614.52,2069.51 619.66,2079.09 624.81,2121.39 629.95,2108.14 635.09,2193.23 640.24,2043.17 645.38,2140.55 650.53,2052.75 655.67,2103.35 660.81,2039.98 665.96,1925.83 671.1,2092.02 676.24,2130.97 681.39,2108.14 686.53,2059.13 691.67,2122.99 696.82,2110.22 701.96,2036.78 707.11,2049.55 712.25,2129.37 717.39,2115.01 722.54,2089.46 727.68,2110.22 732.83,2055.94 737.97,2080.68 743.11,2166.09 748.26,2092.66 753.4,2121.39 758.54,2116.6 763.69,2088.03 768.83,2098.56 773.97,2059.13 779.12,2129.37 784.26,2174.07 789.41,2146.93 794.55,2135.76 799.69,2113.41 804.84,2057.54 809.98,2046.36 815.12,2095.85 820.27,2092.66 825.41,2052.75 830.56,2059.13 835.7,2142.14 840.84,2190.04 845.99,2096.81 851.13,2020.82 856.28,2134.16 861.42,2115.01 866.56,2113.41 871.71,2145.34 876.85,2080.68 881.99,2106.55 887.14,2022.41" fill="none" stroke="#067fc3" stroke-width="2" stroke-linejoin="round"/>
<line x1="95" y1="2250.7" x2="95" y2="2243.7" stroke="#5c5c5c" stroke-width="2.5"/>
<line x1="95" y1="1851.6" x2="95" y2="1858.6" stroke="#5c5c5c" stroke-width="2.5"/>
<line x1="197.88" y1="2250.7" x2="197.88" y2="2243.7" stroke="#5c5c5c" stroke-width="2.5"/>
<line x1="197.88" y1="1851.6" x2="197.88" y2="1858.6" stroke="#5c5c5c" stroke-width="2.5"/>
<line x1="300.75" y1="2250.7" x2="300.75" y2="2243.7" stroke="#5c5c5c" stroke-width="2.5"/>
<line x1="300.75" y1="1851.6" x2="300.75" y2="1858.6" stroke="#5c5c5c" stroke-width="2.5"/>
<line x1="403.62" y1="2250.7" x2="403.62" y2="2243.7" stroke="#5c5c5c" stroke-width="2.5"/>
<line x1="403.62" y1="1851.6" x2="403.62" y2="1858.6" stroke="#5c5c5c" stroke-width="2.5"/>
<line x1="506.5" y1="2250.7" x2="506.5" y2="2243.7" stroke="#5c5c5c" stroke-width="2.5"/>
<line x1="506.5" y1="1851.6" x2="506.5" y2="1858.6" stroke="#5c5c5c" stroke-width="2.5"/>
<line x1="609.38" y1="2250.7" x2="609.38" y2="2243.7" stroke="#5c5c5c" stroke-width="2.5"/>
<line x1="609.38" y1="1851.6" x2="609.38" y2="1858.6" stroke="#5c5c5c" stroke-width="2.5"/>
<line x1="712.25" y1="2250.7" x2="712.25" y2="2243.7" stroke="#5c5c5c" stroke-width="2.5"/>
<line x1="712.25" y1="1851.6" x2="712.25" y2="1858.6" stroke="#5c5c5c" stroke-width="2.5"/>
<line x1="815.12" y1="2250.7" x2="815.12" y2="2243.7" stroke="#5c5c5c" stroke-width="2.5"/>
<line x1="815.12" y1="1851.6" x2="815.12" y2="1858.6" stroke="#5c5c5c" stroke-width="2.5"/>
<line x1="918" y1="2250.7" x2="918" y2="2243.7" stroke="#5c5c5c" stroke-width="2.5"/>
<line x1="918" y1="1851.6" x2="918" y2="1858.6" stroke="#5c5c5c" stroke-width="2.5"/>
<line x1="95" y1="2250.7" x2="102" y2="2250.7" stroke="#5c5c5c" stroke-width="2.5"/>
<line x1="918" y1="2250.7" x2="911" y2="2250.7" stroke="#5c5c5c" stroke-width="2.5"/>
<line x1="95" y1="2170.88" x2="102" y2="2170.88" stroke="#5c5c5c" stroke-width="2.5"/>
<line x1="918" y1="2170.88" x2="911" y2="2170.88" stroke="#5c5c5c" stroke-width="2.5"/>
<line x1="95" y1="2091.06" x2="102" y2="2091.06" stroke="#5c5c5c" stroke-width="2.5"/>
<line x1="918" y1="2091.06" x2="911" y2="2091.06" stroke="#5c5c5c" stroke-width="2.5"/>
<line x1="95" y1="2011.24" x2="102" y2="2011.24" stroke="#5c5c5c" stroke-width="2.5"/>
<line x1="918" y1="2011.24" x2="911" y2="2011.24" stroke="#5c5c5c" stroke-width="2.5"/>
<line x1="95" y1="1931.42" x2="102" y2="1931.42" stroke="#5c5c5c" stroke-width="2.5"/>
<line x1="918" y1="1931.42" x2="911" y2="1931.42" stroke="#5c5c5c" stroke-width="2.5"/>
<line x1="95" y1="1851.6" x2="102" y2="1851.6" stroke="#5c5c5c" stroke-width="2.5"/>
<line x1="918" y1="1851.6" x2="911" y2="1851.6" stroke="#5c5c5c" stroke-width="2.5"/>
<rect x="95" y="1851.6" width="823" height="399.1" fill="none" stroke="#5c5c5c" stroke-width="2.5"/>
<text transform="translate(95,2285.45) scale(0.9300,1)" font-size="23.5" text-anchor="middle" font-weight="normal" fill="#444" stroke="#444" stroke-width="0.5" font-family="'Liberation Sans', Arial, Helvetica, sans-serif">0</text>
<text transform="translate(197.88,2285.45) scale(0.9300,1)" font-size="23.5" text-anchor="middle" font-weight="normal" fill="#444" stroke="#444" stroke-width="0.5" font-family="'Liberation Sans', Arial, Helvetica, sans-serif">20</text>
<text transform="translate(300.75,2285.45) scale(0.9300,1)" font-size="23.5" text-anchor="middle" font-weight="normal" fill="#444" stroke="#444" stroke-width="0.5" font-family="'Liberation Sans', Arial, Helvetica, sans-serif">40</text>
<text transform="translate(403.62,2285.45) scale(0.9300,1)" font-size="23.5" text-anchor="middle" font-weight="normal" fill="#444" stroke="#444" stroke-width="0.5" font-family="'Liberation Sans', Arial, Helvetica, sans-serif">60</text>
<text transform="translate(506.5,2285.45) scale(0.9300,1)" font-size="23.5" text-anchor="middle" font-weight="normal" fill="#444" stroke="#444" stroke-width="0.5" font-family="'Liberation Sans', Arial, Helvetica, sans-serif">80</text>
<text transform="translate(609.38,2285.45) scale(0.9300,1)" font-size="23.5" text-anchor="middle" font-weight="normal" fill="#444" stroke="#444" stroke-width="0.5" font-family="'Liberation Sans', Arial, Helvetica, sans-serif">100</text>
<text transform="translate(712.25,2285.45) scale(0.9300,1)" font-size="23.5" text-anchor="middle" font-weight="normal" fill="#444" stroke="#444" stroke-width="0.5" font-family="'Liberation Sans', Arial, Helvetica, sans-serif">120</text>
<text transform="translate(815.12,2285.45) scale(0.9300,1)" font-size="23.5" text-anchor="middle" font-weight="normal" fill="#444" stroke="#444" stroke-width="0.5" font-family="'Liberation Sans', Arial, Helvetica, sans-serif">140</text>
<text transform="translate(918,2285.45) scale(0.9300,1)" font-size="23.5" text-anchor="middle" font-weight="normal" fill="#444" stroke="#444" stroke-width="0.5" font-family="'Liberation Sans', Arial, Helvetica, sans-serif">160</text>
<text transform="translate(83.2,2260.92) scale(0.9300,1)" font-size="23.5" text-anchor="end" font-weight="normal" fill="#444" stroke="#444" stroke-width="0.5" font-family="'Liberation Sans', Arial, Helvetica, sans-serif">-10</text>
<text transform="translate(83.2,2181.1) scale(0.9300,1)" font-size="23.5" text-anchor="end" font-weight="normal" fill="#444" stroke="#444" stroke-width="0.5" font-family="'Liberation Sans', Arial, Helvetica, sans-serif">-5</text>
<text transform="translate(83.2,2101.28) scale(0.9300,1)" font-size="23.5" text-anchor="end" font-weight="normal" fill="#444" stroke="#444" stroke-width="0.5" font-family="'Liberation Sans', Arial, Helvetica, sans-serif">0</text>
<text transform="translate(83.2,2021.46) scale(0.9300,1)" font-size="23.5" text-anchor="end" font-weight="normal" fill="#444" stroke="#444" stroke-width="0.5" font-family="'Liberation Sans', Arial, Helvetica, sans-serif">5</text>
<text transform="translate(83.2,1941.64) scale(0.9300,1)" font-size="23.5" text-anchor="end" font-weight="normal" fill="#444" stroke="#444" stroke-width="0.5" font-family="'Liberation Sans', Arial, Helvetica, sans-serif">10</text>
<text transform="translate(83.2,1861.82) scale(0.9300,1)" font-size="23.5" text-anchor="end" font-weight="normal" fill="#444" stroke="#444" stroke-width="0.5" font-family="'Liberation Sans', Arial, Helvetica, sans-serif">15</text>
<rect x="755.6" y="1874.8" width="139.4" height="34.7" fill="#fff" stroke="#5c5c5c" stroke-width="2.5"/>
<line x1="762.3" y1="1892.6" x2="833.8" y2="1892.6" stroke="#2aa3dc" stroke-width="3.2"/>
<text transform="translate(840,1901.4)" font-size="22" text-anchor="start" font-weight="normal" fill="#222" stroke="#222" stroke-width="0.5" font-family="'Liberation Sans', Arial, Helvetica, sans-serif">Error</text>
<text transform="translate(506.5,1837.1)" font-size="26.4" text-anchor="middle" font-weight="bold" fill="#000" stroke="#000" stroke-width="0.5" font-family="'Liberation Sans', Arial, Helvetica, sans-serif">MAE = 2.1054, RMSE = 2.7995</text>
<text transform="translate(507,2322)" font-size="26.4" text-anchor="middle" font-weight="normal" fill="#333" stroke="#333" stroke-width="0.5" font-family="'Liberation Sans', Arial, Helvetica, sans-serif">Sample Index</text>
<text transform="translate(34.4,2051.1) rotate(-90)" font-size="26.4" text-anchor="middle" font-weight="normal" fill="#333" stroke="#333" stroke-width="0.5" font-family="'Liberation Sans', Arial, Helvetica, sans-serif">Error</text>
<rect x="1300.8" y="2222.11" width="13.84" height="28.49" fill="#0072bd" stroke="#111" stroke-width="1.6"/>
<rect x="1314.64" y="2165.12" width="13.84" height="85.48" fill="#0072bd" stroke="#111" stroke-width="1.6"/>
<rect x="1328.48" y="2222.11" width="13.84" height="28.49" fill="#0072bd" stroke="#111" stroke-width="1.6"/>
<rect x="1342.32" y="2222.11" width="13.84" height="28.49" fill="#0072bd" stroke="#111" stroke-width="1.6"/>
<rect x="1356.16" y="2222.11" width="13.84" height="28.49" fill="#0072bd" stroke="#111" stroke-width="1.6"/>
<rect x="1370" y="2222.11" width="13.84" height="28.49" fill="#0072bd" stroke="#111" stroke-width="1.6"/>
<rect x="1383.84" y="2222.11" width="13.84" height="28.49" fill="#0072bd" stroke="#111" stroke-width="1.6"/>
<rect x="1411.52" y="2222.11" width="13.84" height="28.49" fill="#0072bd" stroke="#111" stroke-width="1.6"/>
<rect x="1425.36" y="2193.61" width="13.84" height="56.99" fill="#0072bd" stroke="#111" stroke-width="1.6"/>
<rect x="1439.2" y="2165.12" width="13.84" height="85.48" fill="#0072bd" stroke="#111" stroke-width="1.6"/>
<rect x="1453.04" y="2108.14" width="13.84" height="142.46" fill="#0072bd" stroke="#111" stroke-width="1.6"/>
<rect x="1466.88" y="2108.14" width="13.84" height="142.46" fill="#0072bd" stroke="#111" stroke-width="1.6"/>
<rect x="1480.72" y="1965.67" width="13.84" height="284.93" fill="#0072bd" stroke="#111" stroke-width="1.6"/>
<rect x="1494.56" y="2079.64" width="13.84" height="170.96" fill="#0072bd" stroke="#111" stroke-width="1.6"/>
<rect x="1508.4" y="1851.7" width="13.84" height="398.9" fill="#0072bd" stroke="#111" stroke-width="1.6"/>
<rect x="1522.24" y="1880.19" width="13.84" height="370.41" fill="#0072bd" stroke="#111" stroke-width="1.6"/>
<rect x="1536.08" y="1994.16" width="13.84" height="256.44" fill="#0072bd" stroke="#111" stroke-width="1.6"/>
<rect x="1549.92" y="2022.66" width="13.84" height="227.94" fill="#0072bd" stroke="#111" stroke-width="1.6"/>
<rect x="1563.76" y="2079.64" width="13.84" height="170.96" fill="#0072bd" stroke="#111" stroke-width="1.6"/>
<rect x="1577.6" y="2079.64" width="13.84" height="170.96" fill="#0072bd" stroke="#111" stroke-width="1.6"/>
<rect x="1591.44" y="1994.16" width="13.84" height="256.44" fill="#0072bd" stroke="#111" stroke-width="1.6"/>
<rect x="1605.28" y="2108.14" width="13.84" height="142.46" fill="#0072bd" stroke="#111" stroke-width="1.6"/>
<rect x="1619.12" y="2193.61" width="13.84" height="56.99" fill="#0072bd" stroke="#111" stroke-width="1.6"/>
<rect x="1632.96" y="2051.15" width="13.84" height="199.45" fill="#0072bd" stroke="#111" stroke-width="1.6"/>
<rect x="1646.8" y="2051.15" width="13.84" height="199.45" fill="#0072bd" stroke="#111" stroke-width="1.6"/>
<rect x="1660.64" y="2051.15" width="13.84" height="199.45" fill="#0072bd" stroke="#111" stroke-width="1.6"/>
<rect x="1674.48" y="2108.14" width="13.84" height="142.46" fill="#0072bd" stroke="#111" stroke-width="1.6"/>
<rect x="1688.32" y="2136.63" width="13.84" height="113.97" fill="#0072bd" stroke="#111" stroke-width="1.6"/>
<rect x="1702.16" y="2193.61" width="13.84" height="56.99" fill="#0072bd" stroke="#111" stroke-width="1.6"/>
<rect x="1716" y="2193.61" width="13.84" height="56.99" fill="#0072bd" stroke="#111" stroke-width="1.6"/>
<rect x="1729.84" y="2193.61" width="13.84" height="56.99" fill="#0072bd" stroke="#111" stroke-width="1.6"/>
<rect x="1743.68" y="2193.61" width="13.84" height="56.99" fill="#0072bd" stroke="#111" stroke-width="1.6"/>
<rect x="1951.28" y="2222.11" width="13.84" height="28.49" fill="#0072bd" stroke="#111" stroke-width="1.6"/>
<rect x="1965.12" y="2222.11" width="13.84" height="28.49" fill="#0072bd" stroke="#111" stroke-width="1.6"/>
<rect x="1978.96" y="2222.11" width="13.84" height="28.49" fill="#0072bd" stroke="#111" stroke-width="1.6"/>
<polyline points="1234.94,2248.16 1241.62,2247.67 1248.29,2247.11 1254.96,2246.45 1261.64,2245.69 1268.31,2244.81 1274.98,2243.79 1281.66,2242.62 1288.33,2241.29 1295.01,2239.78 1301.68,2238.07 1308.35,2236.14 1315.03,2233.97 1321.7,2231.55 1328.37,2228.86 1335.05,2225.88 1341.72,2222.59 1348.4,2218.98 1355.07,2215.03 1361.74,2210.74 1368.42,2206.1 1375.09,2201.1 1381.76,2195.74 1388.44,2190.02 1395.11,2183.95 1401.78,2177.54 1408.46,2170.8 1415.13,2163.77 1421.81,2156.46 1428.48,2148.91 1435.15,2141.16 1441.83,2133.25 1448.5,2125.23 1455.17,2117.15 1461.85,2109.08 1468.52,2101.06 1475.2,2093.17 1481.87,2085.47 1488.54,2078.03 1495.22,2070.91 1501.89,2064.19 1508.56,2057.92 1515.24,2052.18 1521.91,2047.01 1528.58,2042.47 1535.26,2038.62 1541.93,2035.48 1548.61,2033.1 1555.28,2031.49 1561.95,2030.69 1568.63,2030.69 1575.3,2031.49 1581.97,2033.1 1588.65,2035.48 1595.32,2038.62 1602,2042.47 1608.67,2047.01 1615.34,2052.18 1622.02,2057.92 1628.69,2064.19 1635.36,2070.91 1642.04,2078.03 1648.71,2085.47 1655.38,2093.17 1662.06,2101.06 1668.73,2109.08 1675.41,2117.15 1682.08,2125.23 1688.75,2133.25 1695.43,2141.16 1702.1,2148.91 1708.77,2156.46 1715.45,2163.77 1722.12,2170.8 1728.8,2177.54 1735.47,2183.95 1742.14,2190.02 1748.82,2195.74 1755.49,2201.1 1762.16,2206.1 1768.84,2210.74 1775.51,2215.03 1782.18,2218.98 1788.86,2222.59 1795.53,2225.88 1802.21,2228.86 1808.88,2231.55 1815.55,2233.97 1822.23,2236.14 1828.9,2238.07 1835.57,2239.78 1842.25,2241.29 1848.92,2242.62 1855.6,2243.79 1862.27,2244.81 1868.94,2245.69 1875.62,2246.45 1882.29,2247.11 1888.96,2247.67 1895.64,2248.16" fill="none" stroke="#ff0000" stroke-width="4.4" stroke-linejoin="round"/>
<line x1="1180.4" y1="2250.6" x2="1180.4" y2="2243.6" stroke="#5c5c5c" stroke-width="2.5"/>
<line x1="1180.4" y1="1851.7" x2="1180.4" y2="1858.7" stroke="#5c5c5c" stroke-width="2.5"/>
<line x1="1256.5" y1="2250.6" x2="1256.5" y2="2243.6" stroke="#5c5c5c" stroke-width="2.5"/>
<line x1="1256.5" y1="1851.7" x2="1256.5" y2="1858.7" stroke="#5c5c5c" stroke-width="2.5"/>
<line x1="1335" y1="2250.6" x2="1335" y2="2243.6" stroke="#5c5c5c" stroke-width="2.5"/>
<line x1="1335" y1="1851.7" x2="1335" y2="1858.7" stroke="#5c5c5c" stroke-width="2.5"/>
<line x1="1413.5" y1="2250.6" x2="1413.5" y2="2243.6" stroke="#5c5c5c" stroke-width="2.5"/>
<line x1="1413.5" y1="1851.7" x2="1413.5" y2="1858.7" stroke="#5c5c5c" stroke-width="2.5"/>
<line x1="1492" y1="2250.6" x2="1492" y2="2243.6" stroke="#5c5c5c" stroke-width="2.5"/>
<line x1="1492" y1="1851.7" x2="1492" y2="1858.7" stroke="#5c5c5c" stroke-width="2.5"/>
<line x1="1570.5" y1="2250.6" x2="1570.5" y2="2243.6" stroke="#5c5c5c" stroke-width="2.5"/>
<line x1="1570.5" y1="1851.7" x2="1570.5" y2="1858.7" stroke="#5c5c5c" stroke-width="2.5"/>
<line x1="1649" y1="2250.6" x2="1649" y2="2243.6" stroke="#5c5c5c" stroke-width="2.5"/>
<line x1="1649" y1="1851.7" x2="1649" y2="1858.7" stroke="#5c5c5c" stroke-width="2.5"/>
<line x1="1727.5" y1="2250.6" x2="1727.5" y2="2243.6" stroke="#5c5c5c" stroke-width="2.5"/>
<line x1="1727.5" y1="1851.7" x2="1727.5" y2="1858.7" stroke="#5c5c5c" stroke-width="2.5"/>
<line x1="1806" y1="2250.6" x2="1806" y2="2243.6" stroke="#5c5c5c" stroke-width="2.5"/>
<line x1="1806" y1="1851.7" x2="1806" y2="1858.7" stroke="#5c5c5c" stroke-width="2.5"/>
<line x1="1884.5" y1="2250.6" x2="1884.5" y2="2243.6" stroke="#5c5c5c" stroke-width="2.5"/>
<line x1="1884.5" y1="1851.7" x2="1884.5" y2="1858.7" stroke="#5c5c5c" stroke-width="2.5"/>
<line x1="1963" y1="2250.6" x2="1963" y2="2243.6" stroke="#5c5c5c" stroke-width="2.5"/>
<line x1="1963" y1="1851.7" x2="1963" y2="1858.7" stroke="#5c5c5c" stroke-width="2.5"/>
<line x1="1180.4" y1="2250.6" x2="1187.4" y2="2250.6" stroke="#5c5c5c" stroke-width="2.5"/>
<line x1="2003.6" y1="2250.6" x2="1996.6" y2="2250.6" stroke="#5c5c5c" stroke-width="2.5"/>
<line x1="1180.4" y1="2193.61" x2="1187.4" y2="2193.61" stroke="#5c5c5c" stroke-width="2.5"/>
<line x1="2003.6" y1="2193.61" x2="1996.6" y2="2193.61" stroke="#5c5c5c" stroke-width="2.5"/>
<line x1="1180.4" y1="2136.63" x2="1187.4" y2="2136.63" stroke="#5c5c5c" stroke-width="2.5"/>
<line x1="2003.6" y1="2136.63" x2="1996.6" y2="2136.63" stroke="#5c5c5c" stroke-width="2.5"/>
<line x1="1180.4" y1="2079.64" x2="1187.4" y2="2079.64" stroke="#5c5c5c" stroke-width="2.5"/>
<line x1="2003.6" y1="2079.64" x2="1996.6" y2="2079.64" stroke="#5c5c5c" stroke-width="2.5"/>
<line x1="1180.4" y1="2022.66" x2="1187.4" y2="2022.66" stroke="#5c5c5c" stroke-width="2.5"/>
<line x1="2003.6" y1="2022.66" x2="1996.6" y2="2022.66" stroke="#5c5c5c" stroke-width="2.5"/>
<line x1="1180.4" y1="1965.67" x2="1187.4" y2="1965.67" stroke="#5c5c5c" stroke-width="2.5"/>
<line x1="2003.6" y1="1965.67" x2="1996.6" y2="1965.67" stroke="#5c5c5c" stroke-width="2.5"/>
<line x1="1180.4" y1="1908.69" x2="1187.4" y2="1908.69" stroke="#5c5c5c" stroke-width="2.5"/>
<line x1="2003.6" y1="1908.69" x2="1996.6" y2="1908.69" stroke="#5c5c5c" stroke-width="2.5"/>
<line x1="1180.4" y1="1851.7" x2="1187.4" y2="1851.7" stroke="#5c5c5c" stroke-width="2.5"/>
<line x1="2003.6" y1="1851.7" x2="1996.6" y2="1851.7" stroke="#5c5c5c" stroke-width="2.5"/>
<rect x="1180.4" y="1851.7" width="823.2" height="398.9" fill="none" stroke="#5c5c5c" stroke-width="2.5"/>
<text transform="translate(1178,2285.35) scale(0.9300,1)" font-size="23.5" text-anchor="middle" font-weight="normal" fill="#444" stroke="#444" stroke-width="0.5" font-family="'Liberation Sans', Arial, Helvetica, sans-serif">-10</text>
<text transform="translate(1256.5,2285.35) scale(0.9300,1)" font-size="23.5" text-anchor="middle" font-weight="normal" fill="#444" stroke="#444" stroke-width="0.5" font-family="'Liberation Sans', Arial, Helvetica, sans-serif">-8</text>
<text transform="translate(1335,2285.35) scale(0.9300,1)" font-size="23.5" text-anchor="middle" font-weight="normal" fill="#444" stroke="#444" stroke-width="0.5" font-family="'Liberation Sans', Arial, Helvetica, sans-serif">-6</text>
<text transform="translate(1413.5,2285.35) scale(0.9300,1)" font-size="23.5" text-anchor="middle" font-weight="normal" fill="#444" stroke="#444" stroke-width="0.5" font-family="'Liberation Sans', Arial, Helvetica, sans-serif">-4</text>
<text transform="translate(1492,2285.35) scale(0.9300,1)" font-size="23.5" text-anchor="middle" font-weight="normal" fill="#444" stroke="#444" stroke-width="0.5" font-family="'Liberation Sans', Arial, Helvetica, sans-serif">-2</text>
<text transform="translate(1570.5,2285.35) scale(0.9300,1)" font-size="23.5" text-anchor="middle" font-weight="normal" fill="#444" stroke="#444" stroke-width="0.5" font-family="'Liberation Sans', Arial, Helvetica, sans-serif">0</text>
<text transform="translate(1649,2285.35) scale(0.9300,1)" font-size="23.5" text-anchor="middle" font-weight="normal" fill="#444" stroke="#444" stroke-width="0.5" font-family="'Liberation Sans', Arial, Helvetica, sans-serif">2</text>
<text transform="translate(1727.5,2285.35) scale(0.9300,1)" font-size="23.5" text-anchor="middle" font-weight="normal" fill="#444" stroke="#444" stroke-width="0.5" font-family="'Liberation Sans', Arial, Helvetica, sans-serif">4</text>
<text transform="translate(1806,2285.35) scale(0.9300,1)" font-size="23.5" text-anchor="middle" font-weight="normal" fill="#444" stroke="#444" stroke-width="0.5" font-family="'Liberation Sans', Arial, Helvetica, sans-serif">6</text>
<text transform="translate(1884.5,2285.35) scale(0.9300,1)" font-size="23.5" text-anchor="middle" font-weight="normal" fill="#444" stroke="#444" stroke-width="0.5" font-family="'Liberation Sans', Arial, Helvetica, sans-serif">8</text>
<text transform="translate(1963,2285.35) scale(0.9300,1)" font-size="23.5" text-anchor="middle" font-weight="normal" fill="#444" stroke="#444" stroke-width="0.5" font-family="'Liberation Sans', Arial, Helvetica, sans-serif">10</text>
<text transform="translate(1168.6,2260.82) scale(0.9300,1)" font-size="23.5" text-anchor="end" font-weight="normal" fill="#444" stroke="#444" stroke-width="0.5" font-family="'Liberation Sans', Arial, Helvetica, sans-serif">0</text>
<text transform="translate(1168.6,2203.84) scale(0.9300,1)" font-size="23.5" text-anchor="end" font-weight="normal" fill="#444" stroke="#444" stroke-width="0.5" font-family="'Liberation Sans', Arial, Helvetica, sans-serif">2</text>
<text transform="translate(1168.6,2146.85) scale(0.9300,1)" font-size="23.5" text-anchor="end" font-weight="normal" fill="#444" stroke="#444" stroke-width="0.5" font-family="'Liberation Sans', Arial, Helvetica, sans-serif">4</text>
<text transform="translate(1168.6,2089.87) scale(0.9300,1)" font-size="23.5" text-anchor="end" font-weight="normal" fill="#444" stroke="#444" stroke-width="0.5" font-family="'Liberation Sans', Arial, Helvetica, sans-serif">6</text>
<text transform="translate(1168.6,2032.88) scale(0.9300,1)" font-size="23.5" text-anchor="end" font-weight="normal" fill="#444" stroke="#444" stroke-width="0.5" font-family="'Liberation Sans', Arial, Helvetica, sans-serif">8</text>
<text transform="translate(1168.6,1975.9) scale(0.9300,1)" font-size="23.5" text-anchor="end" font-weight="normal" fill="#444" stroke="#444" stroke-width="0.5" font-family="'Liberation Sans', Arial, Helvetica, sans-serif">10</text>
<text transform="translate(1168.6,1918.91) scale(0.9300,1)" font-size="23.5" text-anchor="end" font-weight="normal" fill="#444" stroke="#444" stroke-width="0.5" font-family="'Liberation Sans', Arial, Helvetica, sans-serif">12</text>
<text transform="translate(1168.6,1861.92) scale(0.9300,1)" font-size="23.5" text-anchor="end" font-weight="normal" fill="#444" stroke="#444" stroke-width="0.5" font-family="'Liberation Sans', Arial, Helvetica, sans-serif">14</text>
<text transform="translate(1592,1837.3)" font-size="26.4" text-anchor="middle" font-weight="bold" fill="#000" stroke="#000" stroke-width="0.5" font-family="'Liberation Sans', Arial, Helvetica, sans-serif">Error Mean = -0.13274, Error St.D. = 2.8055</text>
<text transform="translate(1592,2322.5)" font-size="26.4" text-anchor="middle" font-weight="normal" fill="#333" stroke="#333" stroke-width="0.5" font-family="'Liberation Sans', Arial, Helvetica, sans-serif">Error</text>
<text transform="translate(1127.8,2051.1) rotate(-90)" font-size="26.4" text-anchor="middle" font-weight="normal" fill="#333" stroke="#333" stroke-width="0.5" font-family="'Liberation Sans', Arial, Helvetica, sans-serif">Frequency</text>
</g>
<text transform="translate(711.8,1188.2) scale(1.0022,1)" font-size="50" font-family="'Liberation Serif', 'Times New Roman', serif" fill="#000">(<tspan font-weight="bold">e</tspan>) ICA-ANN</text>
<text transform="translate(998.83,1188.6) scale(0.6667,1)" font-size="50" font-family="'Liberation Serif', 'Times New Roman', serif" fill="#000">—</text>
<text transform="translate(1038.98,1188.2) scale(1.0169,1)" font-size="50" font-family="'Liberation Serif', 'Times New Roman', serif" fill="#000">Training CL</text>
<text transform="translate(727,2439.3) scale(1.0007,1)" font-size="50" font-family="'Liberation Serif', 'Times New Roman', serif" fill="#000">(<tspan font-weight="bold">f</tspan>) ICA-ANN</text>
<text transform="translate(1008.63,2439.7) scale(0.6667,1)" font-size="50" font-family="'Liberation Serif', 'Times New Roman', serif" fill="#000">—</text>
<text transform="translate(1048.78,2439.3) scale(1.0201,1)" font-size="50" font-family="'Liberation Serif', 'Times New Roman', serif" fill="#000">Testing CL</text>
</svg>
</body></html>
